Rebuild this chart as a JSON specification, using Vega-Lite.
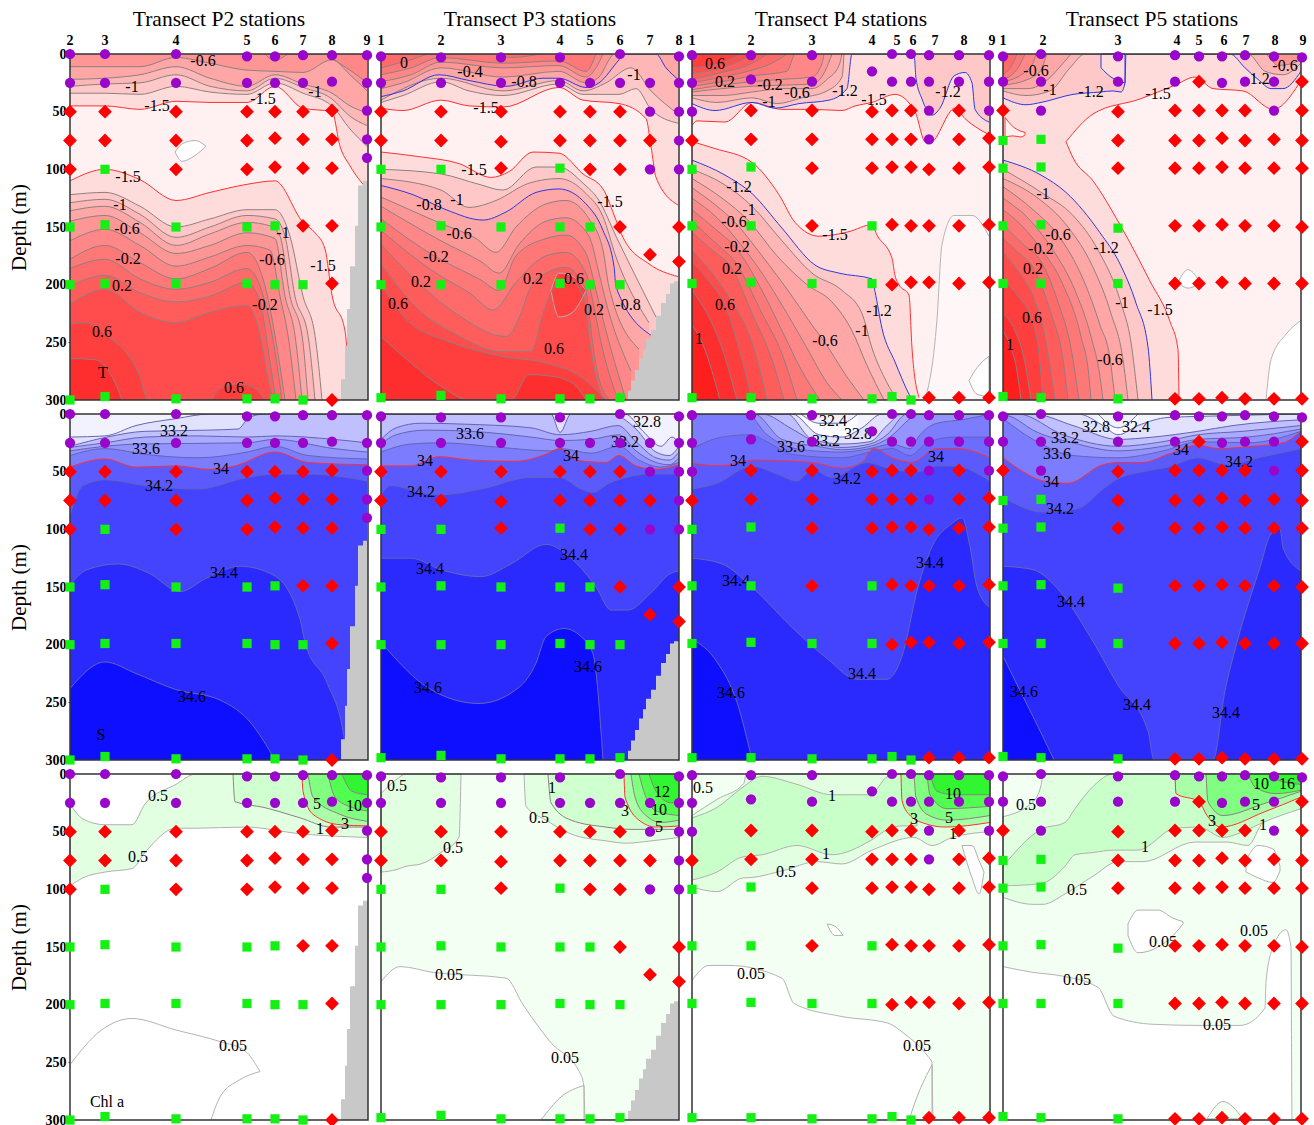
{"$schema":"https://vega.github.io/schema/vega-lite/v6.json","background":"white","padding":{"left":8,"top":8,"right":0,"bottom":0},
"data":{"values":[
{"r":[0,1,2],"c":2,"l":"fr","x":0,"d":0,"e":300},{"r":[0,1,2],"c":2,"l":"fr","x":298,"d":0,"e":300},{"r":[0,1,2],"c":3,"l":"fr","x":0,"d":0,"e":300},{"r":[0,1,2],"c":3,"l":"fr","x":298,"d":0,"e":300},{"r":[0,1,2],"c":4,"l":"fr","x":0,"d":0,"e":300},{"r":[0,1,2],"c":4,"l":"fr","x":298,"d":0,"e":300},{"r":[0,1,2],"c":5,"l":"fr","x":0,"d":0,"e":300},{"r":[0,1,2],"c":5,"l":"fr","x":298,"d":0,"e":300},
{"r":[0],"c":3,"i":243,"j":277},{"r":[0],"c":4,"i":161,"j":230},{"r":[0],"c":5,"i":98,"j":225},
{"r":[0],"c":2,"l":"bT","x":0,"d":300},{"r":[0],"c":2,"l":"bT","x":298,"d":300},
{"r":[0],"c":2,"l":"u1","x":0,"d":45},{"r":[0],"c":2,"l":"u1","x":35,"d":45},{"r":[0],"c":2,"l":"u1","x":70,"d":48},{"r":[0],"c":2,"l":"u1","x":106,"d":41},{"r":[0],"c":2,"l":"u1","x":140,"d":42},{"r":[0],"c":2,"l":"u1","x":177,"d":42},{"r":[0],"c":2,"l":"u1","x":205,"d":28},{"r":[0],"c":2,"l":"u1","x":233,"d":47},{"r":[0],"c":2,"l":"u1","x":262,"d":50},{"r":[0],"c":2,"l":"u1","x":270,"d":80},{"r":[0],"c":2,"l":"u1","x":280,"d":97},{"r":[0],"c":2,"l":"u1","x":297,"d":117},
{"r":[0],"c":2,"l":"u2","x":0,"d":34},{"r":[0],"c":2,"l":"u2","x":35,"d":34},{"r":[0],"c":2,"l":"u2","x":70,"d":35},{"r":[0],"c":2,"l":"u2","x":106,"d":28},{"r":[0],"c":2,"l":"u2","x":140,"d":33},{"r":[0],"c":2,"l":"u2","x":177,"d":35},{"r":[0],"c":2,"l":"u2","x":205,"d":25},{"r":[0],"c":2,"l":"u2","x":233,"d":34},{"r":[0],"c":2,"l":"u2","x":262,"d":45},{"r":[0],"c":2,"l":"u2","x":280,"d":65},{"r":[0],"c":2,"l":"u2","x":297,"d":80},
{"r":[0],"c":2,"l":"u3","x":0,"d":28},{"r":[0],"c":2,"l":"u3","x":35,"d":26},{"r":[0],"c":2,"l":"u3","x":70,"d":25},{"r":[0],"c":2,"l":"u3","x":106,"d":18},{"r":[0],"c":2,"l":"u3","x":140,"d":28},{"r":[0],"c":2,"l":"u3","x":177,"d":32},{"r":[0],"c":2,"l":"u3","x":205,"d":21},{"r":[0],"c":2,"l":"u3","x":233,"d":29},{"r":[0],"c":2,"l":"u3","x":262,"d":39},{"r":[0],"c":2,"l":"u3","x":280,"d":54},{"r":[0],"c":2,"l":"u3","x":297,"d":62},
{"r":[0],"c":2,"l":"u4","x":0,"d":22},{"r":[0],"c":2,"l":"u4","x":35,"d":21},{"r":[0],"c":2,"l":"u4","x":70,"d":18},{"r":[0],"c":2,"l":"u4","x":106,"d":11},{"r":[0],"c":2,"l":"u4","x":140,"d":21},{"r":[0],"c":2,"l":"u4","x":177,"d":28},{"r":[0],"c":2,"l":"u4","x":205,"d":18},{"r":[0],"c":2,"l":"u4","x":233,"d":26},{"r":[0],"c":2,"l":"u4","x":262,"d":34},{"r":[0],"c":2,"l":"u4","x":280,"d":45},{"r":[0],"c":2,"l":"u4","x":297,"d":51},
{"r":[0],"c":2,"l":"u5","x":0,"d":11},{"r":[0],"c":2,"l":"u5","x":35,"d":11},{"r":[0],"c":2,"l":"u5","x":70,"d":11},{"r":[0],"c":2,"l":"u5","x":106,"d":3},{"r":[0],"c":2,"l":"u5","x":140,"d":8},{"r":[0],"c":2,"l":"u5","x":177,"d":14},{"r":[0],"c":2,"l":"u5","x":205,"d":15},{"r":[0],"c":2,"l":"u5","x":233,"d":16},{"r":[0],"c":2,"l":"u5","x":262,"d":5},{"r":[0],"c":2,"l":"u5","x":280,"d":18},{"r":[0],"c":2,"l":"u5","x":297,"d":32},
{"r":[0],"c":2,"l":"u6","x":195,"d":0},{"r":[0],"c":2,"l":"u6","x":205,"d":6},{"r":[0],"c":2,"l":"u6","x":220,"d":0},{"r":[0],"c":2,"l":"u6","x":255,"d":0},{"r":[0],"c":2,"l":"u6","x":262,"d":4},{"r":[0],"c":2,"l":"u6","x":280,"d":14},{"r":[0],"c":2,"l":"u6","x":297,"d":25},
{"r":[0],"c":2,"l":"d1","x":0,"d":110},{"r":[0],"c":2,"l":"d1","x":35,"d":100},{"r":[0],"c":2,"l":"d1","x":70,"d":109},{"r":[0],"c":2,"l":"d1","x":106,"d":127},{"r":[0],"c":2,"l":"d1","x":140,"d":120},{"r":[0],"c":2,"l":"d1","x":177,"d":113},{"r":[0],"c":2,"l":"d1","x":205,"d":110},{"r":[0],"c":2,"l":"d1","x":233,"d":146},{"r":[0],"c":2,"l":"d1","x":245,"d":155},{"r":[0],"c":2,"l":"d1","x":255,"d":169},{"r":[0],"c":2,"l":"d1","x":262,"d":209},{"r":[0],"c":2,"l":"d1","x":275,"d":240},{"r":[0],"c":2,"l":"d1","x":280,"d":300},
{"r":[0],"c":2,"l":"d2","x":0,"d":122},{"r":[0],"c":2,"l":"d2","x":35,"d":120},{"r":[0],"c":2,"l":"d2","x":70,"d":132},{"r":[0],"c":2,"l":"d2","x":106,"d":150},{"r":[0],"c":2,"l":"d2","x":140,"d":143},{"r":[0],"c":2,"l":"d2","x":177,"d":135},{"r":[0],"c":2,"l":"d2","x":205,"d":135},{"r":[0],"c":2,"l":"d2","x":220,"d":158},{"r":[0],"c":2,"l":"d2","x":233,"d":210},{"r":[0],"c":2,"l":"d2","x":245,"d":244},{"r":[0],"c":2,"l":"d2","x":252,"d":300},
{"r":[0],"c":2,"l":"d3","x":0,"d":129},{"r":[0],"c":2,"l":"d3","x":35,"d":126},{"r":[0],"c":2,"l":"d3","x":70,"d":139},{"r":[0],"c":2,"l":"d3","x":106,"d":159},{"r":[0],"c":2,"l":"d3","x":140,"d":150},{"r":[0],"c":2,"l":"d3","x":177,"d":140},{"r":[0],"c":2,"l":"d3","x":205,"d":143},{"r":[0],"c":2,"l":"d3","x":215,"d":158},{"r":[0],"c":2,"l":"d3","x":225,"d":210},{"r":[0],"c":2,"l":"d3","x":238,"d":244},{"r":[0],"c":2,"l":"d3","x":245,"d":300},
{"r":[0],"c":2,"l":"d4","x":0,"d":136},{"r":[0],"c":2,"l":"d4","x":35,"d":132},{"r":[0],"c":2,"l":"d4","x":70,"d":146},{"r":[0],"c":2,"l":"d4","x":106,"d":166},{"r":[0],"c":2,"l":"d4","x":140,"d":156},{"r":[0],"c":2,"l":"d4","x":177,"d":146},{"r":[0],"c":2,"l":"d4","x":200,"d":149},{"r":[0],"c":2,"l":"d4","x":210,"d":158},{"r":[0],"c":2,"l":"d4","x":220,"d":210},{"r":[0],"c":2,"l":"d4","x":232,"d":244},{"r":[0],"c":2,"l":"d4","x":238,"d":300},
{"r":[0],"c":2,"l":"d5","x":0,"d":145},{"r":[0],"c":2,"l":"d5","x":35,"d":140},{"r":[0],"c":2,"l":"d5","x":70,"d":155},{"r":[0],"c":2,"l":"d5","x":106,"d":173},{"r":[0],"c":2,"l":"d5","x":140,"d":166},{"r":[0],"c":2,"l":"d5","x":177,"d":155},{"r":[0],"c":2,"l":"d5","x":205,"d":160},{"r":[0],"c":2,"l":"d5","x":215,"d":210},{"r":[0],"c":2,"l":"d5","x":225,"d":244},{"r":[0],"c":2,"l":"d5","x":232,"d":300},
{"r":[0],"c":2,"l":"d6","x":0,"d":162},{"r":[0],"c":2,"l":"d6","x":35,"d":152},{"r":[0],"c":2,"l":"d6","x":70,"d":166},{"r":[0],"c":2,"l":"d6","x":106,"d":184},{"r":[0],"c":2,"l":"d6","x":140,"d":176},{"r":[0],"c":2,"l":"d6","x":177,"d":166},{"r":[0],"c":2,"l":"d6","x":200,"d":170},{"r":[0],"c":2,"l":"d6","x":210,"d":210},{"r":[0],"c":2,"l":"d6","x":218,"d":244},{"r":[0],"c":2,"l":"d6","x":226,"d":300},
{"r":[0],"c":2,"l":"d7","x":0,"d":178},{"r":[0],"c":2,"l":"d7","x":35,"d":166},{"r":[0],"c":2,"l":"d7","x":70,"d":181},{"r":[0],"c":2,"l":"d7","x":106,"d":195},{"r":[0],"c":2,"l":"d7","x":140,"d":186},{"r":[0],"c":2,"l":"d7","x":177,"d":172},{"r":[0],"c":2,"l":"d7","x":195,"d":201},{"r":[0],"c":2,"l":"d7","x":205,"d":244},{"r":[0],"c":2,"l":"d7","x":215,"d":300},
{"r":[0],"c":2,"l":"d8","x":0,"d":186},{"r":[0],"c":2,"l":"d8","x":35,"d":178},{"r":[0],"c":2,"l":"d8","x":70,"d":195},{"r":[0],"c":2,"l":"d8","x":106,"d":204},{"r":[0],"c":2,"l":"d8","x":140,"d":198},{"r":[0],"c":2,"l":"d8","x":177,"d":186},{"r":[0],"c":2,"l":"d8","x":195,"d":215},{"r":[0],"c":2,"l":"d8","x":205,"d":258},{"r":[0],"c":2,"l":"d8","x":212,"d":300},
{"r":[0],"c":2,"l":"d9","x":0,"d":201},{"r":[0],"c":2,"l":"d9","x":35,"d":192},{"r":[0],"c":2,"l":"d9","x":70,"d":207},{"r":[0],"c":2,"l":"d9","x":106,"d":215},{"r":[0],"c":2,"l":"d9","x":140,"d":210},{"r":[0],"c":2,"l":"d9","x":177,"d":198},{"r":[0],"c":2,"l":"d9","x":190,"d":215},{"r":[0],"c":2,"l":"d9","x":200,"d":267},{"r":[0],"c":2,"l":"d9","x":206,"d":300},
{"r":[0],"c":2,"l":"d10","x":0,"d":217},{"r":[0],"c":2,"l":"d10","x":35,"d":204},{"r":[0],"c":2,"l":"d10","x":70,"d":224},{"r":[0],"c":2,"l":"d10","x":106,"d":233},{"r":[0],"c":2,"l":"d10","x":140,"d":224},{"r":[0],"c":2,"l":"d10","x":177,"d":218},{"r":[0],"c":2,"l":"d10","x":190,"d":244},{"r":[0],"c":2,"l":"d10","x":198,"d":282},{"r":[0],"c":2,"l":"d10","x":203,"d":300},
{"r":[0],"c":2,"l":"d11","x":0,"d":234},{"r":[0],"c":2,"l":"d11","x":15,"d":233},{"r":[0],"c":2,"l":"d11","x":35,"d":243},{"r":[0],"c":2,"l":"d11","x":70,"d":280},{"r":[0],"c":2,"l":"d11","x":78,"d":300},{"r":[0],"c":2,"l":"d11","x":140,"d":300},{"r":[0],"c":2,"l":"d11","x":150,"d":290},{"r":[0],"c":2,"l":"d11","x":170,"d":286},{"r":[0],"c":2,"l":"d11","x":185,"d":290},{"r":[0],"c":2,"l":"d11","x":195,"d":300},
{"r":[0],"c":2,"l":"d12","x":0,"d":264},{"r":[0],"c":2,"l":"d12","x":25,"d":265},{"r":[0],"c":2,"l":"d12","x":45,"d":285},{"r":[0],"c":2,"l":"d12","x":52,"d":300},
{"r":[0],"c":2,"l":"mw","x":105,"d":85,"e":85},{"r":[0],"c":2,"l":"mw","x":112,"d":78,"e":93},{"r":[0],"c":2,"l":"mw","x":125,"d":75,"e":88},{"r":[0],"c":2,"l":"mw","x":136,"d":80,"e":80},
{"r":[0],"c":3,"l":"bT","x":0,"d":300},{"r":[0],"c":3,"l":"bT","x":298,"d":300},
{"r":[0],"c":3,"l":"u1","x":0,"d":47},{"r":[0],"c":3,"l":"u1","x":22,"d":49},{"r":[0],"c":3,"l":"u1","x":60,"d":40},{"r":[0],"c":3,"l":"u1","x":88,"d":45},{"r":[0],"c":3,"l":"u1","x":122,"d":46},{"r":[0],"c":3,"l":"u1","x":178,"d":29},{"r":[0],"c":3,"l":"u1","x":202,"d":40},{"r":[0],"c":3,"l":"u1","x":238,"d":43},{"r":[0],"c":3,"l":"u1","x":265,"d":56},{"r":[0],"c":3,"l":"u1","x":270,"d":80},{"r":[0],"c":3,"l":"u1","x":275,"d":107},{"r":[0],"c":3,"l":"u1","x":297,"d":131},
{"r":[0],"c":3,"l":"u2","x":0,"d":42},{"r":[0],"c":3,"l":"u2","x":22,"d":36},{"r":[0],"c":3,"l":"u2","x":60,"d":24},{"r":[0],"c":3,"l":"u2","x":88,"d":32},{"r":[0],"c":3,"l":"u2","x":122,"d":36},{"r":[0],"c":3,"l":"u2","x":178,"d":26},{"r":[0],"c":3,"l":"u2","x":202,"d":35},{"r":[0],"c":3,"l":"u2","x":238,"d":35},{"r":[0],"c":3,"l":"u2","x":255,"d":30},{"r":[0],"c":3,"l":"u2","x":270,"d":48},{"r":[0],"c":3,"l":"u2","x":297,"d":60},
{"r":[0],"c":3,"l":"u3","x":0,"d":40},{"r":[0],"c":3,"l":"u3","x":60,"d":21},{"r":[0],"c":3,"l":"u3","x":122,"d":32},{"r":[0],"c":3,"l":"u3","x":178,"d":23},{"r":[0],"c":3,"l":"u3","x":202,"d":32},{"r":[0],"c":3,"l":"u3","x":225,"d":25},{"r":[0],"c":3,"l":"u3","x":250,"d":12},{"r":[0],"c":3,"l":"u3","x":270,"d":32},{"r":[0],"c":3,"l":"u3","x":297,"d":52},
{"r":[0],"c":3,"l":"u4b","x":0,"d":37},{"r":[0],"c":3,"l":"u4b","x":22,"d":32},{"r":[0],"c":3,"l":"u4b","x":58,"d":18},{"r":[0],"c":3,"l":"u4b","x":88,"d":23},{"r":[0],"c":3,"l":"u4b","x":125,"d":28},{"r":[0],"c":3,"l":"u4b","x":162,"d":21},{"r":[0],"c":3,"l":"u4b","x":178,"d":21},{"r":[0],"c":3,"l":"u4b","x":205,"d":29},{"r":[0],"c":3,"l":"u4b","x":218,"d":25},{"r":[0],"c":3,"l":"u4b","x":238,"d":5},{"r":[0],"c":3,"l":"u4b","x":243,"d":0},{"r":[0],"c":3,"l":"u4b","x":275,"d":0},{"r":[0],"c":3,"l":"u4b","x":285,"d":12},{"r":[0],"c":3,"l":"u4b","x":297,"d":22},
{"r":[0],"c":3,"l":"u5","x":0,"d":30},{"r":[0],"c":3,"l":"u5","x":22,"d":25},{"r":[0],"c":3,"l":"u5","x":60,"d":12},{"r":[0],"c":3,"l":"u5","x":122,"d":20},{"r":[0],"c":3,"l":"u5","x":178,"d":15},{"r":[0],"c":3,"l":"u5","x":205,"d":25},{"r":[0],"c":3,"l":"u5","x":218,"d":20},{"r":[0],"c":3,"l":"u5","x":228,"d":5},{"r":[0],"c":3,"l":"u5","x":232,"d":0},
{"r":[0],"c":3,"l":"u6","x":0,"d":24},{"r":[0],"c":3,"l":"u6","x":30,"d":18},{"r":[0],"c":3,"l":"u6","x":60,"d":7},{"r":[0],"c":3,"l":"u6","x":122,"d":12},{"r":[0],"c":3,"l":"u6","x":178,"d":10},{"r":[0],"c":3,"l":"u6","x":205,"d":20},{"r":[0],"c":3,"l":"u6","x":215,"d":12},{"r":[0],"c":3,"l":"u6","x":222,"d":0},
{"r":[0],"c":3,"l":"u7","x":0,"d":18},{"r":[0],"c":3,"l":"u7","x":30,"d":12},{"r":[0],"c":3,"l":"u7","x":60,"d":3},{"r":[0],"c":3,"l":"u7","x":122,"d":8},{"r":[0],"c":3,"l":"u7","x":178,"d":6},{"r":[0],"c":3,"l":"u7","x":205,"d":15},{"r":[0],"c":3,"l":"u7","x":215,"d":0},
{"r":[0],"c":3,"l":"u8","x":0,"d":12},{"r":[0],"c":3,"l":"u8","x":30,"d":5},{"r":[0],"c":3,"l":"u8","x":50,"d":0},{"r":[0],"c":3,"l":"u8","x":110,"d":0},{"r":[0],"c":3,"l":"u8","x":130,"d":3},{"r":[0],"c":3,"l":"u8","x":160,"d":0},
{"r":[0],"c":3,"l":"d1","x":0,"d":85},{"r":[0],"c":3,"l":"d1","x":38,"d":89},{"r":[0],"c":3,"l":"d1","x":78,"d":95},{"r":[0],"c":3,"l":"d1","x":110,"d":107},{"r":[0],"c":3,"l":"d1","x":128,"d":102},{"r":[0],"c":3,"l":"d1","x":152,"d":85},{"r":[0],"c":3,"l":"d1","x":178,"d":86},{"r":[0],"c":3,"l":"d1","x":202,"d":104},{"r":[0],"c":3,"l":"d1","x":222,"d":117},{"r":[0],"c":3,"l":"d1","x":235,"d":144},{"r":[0],"c":3,"l":"d1","x":242,"d":159},{"r":[0],"c":3,"l":"d1","x":268,"d":182},{"r":[0],"c":3,"l":"d1","x":297,"d":193},
{"r":[0],"c":3,"l":"d2","x":0,"d":100},{"r":[0],"c":3,"l":"d2","x":60,"d":104},{"r":[0],"c":3,"l":"d2","x":98,"d":113},{"r":[0],"c":3,"l":"d2","x":122,"d":118},{"r":[0],"c":3,"l":"d2","x":155,"d":98},{"r":[0],"c":3,"l":"d2","x":178,"d":98},{"r":[0],"c":3,"l":"d2","x":202,"d":112},{"r":[0],"c":3,"l":"d2","x":218,"d":127},{"r":[0],"c":3,"l":"d2","x":235,"d":158},{"r":[0],"c":3,"l":"d2","x":275,"d":228},
{"r":[0],"c":3,"l":"d3","x":0,"d":108},{"r":[0],"c":3,"l":"d3","x":60,"d":118},{"r":[0],"c":3,"l":"d3","x":88,"d":133},{"r":[0],"c":3,"l":"d3","x":115,"d":127},{"r":[0],"c":3,"l":"d3","x":148,"d":112},{"r":[0],"c":3,"l":"d3","x":178,"d":108},{"r":[0],"c":3,"l":"d3","x":205,"d":121},{"r":[0],"c":3,"l":"d3","x":222,"d":141},{"r":[0],"c":3,"l":"d3","x":235,"d":176},{"r":[0],"c":3,"l":"d3","x":268,"d":233},
{"r":[0],"c":3,"l":"d4b","x":0,"d":114},{"r":[0],"c":3,"l":"d4b","x":32,"d":122},{"r":[0],"c":3,"l":"d4b","x":65,"d":135},{"r":[0],"c":3,"l":"d4b","x":102,"d":144},{"r":[0],"c":3,"l":"d4b","x":125,"d":137},{"r":[0],"c":3,"l":"d4b","x":155,"d":120},{"r":[0],"c":3,"l":"d4b","x":178,"d":117},{"r":[0],"c":3,"l":"d4b","x":205,"d":130},{"r":[0],"c":3,"l":"d4b","x":222,"d":153},{"r":[0],"c":3,"l":"d4b","x":233,"d":184},{"r":[0],"c":3,"l":"d4b","x":235,"d":202},{"r":[0],"c":3,"l":"d4b","x":272,"d":245},
{"r":[0],"c":3,"l":"d5","x":0,"d":124},{"r":[0],"c":3,"l":"d5","x":60,"d":147},{"r":[0],"c":3,"l":"d5","x":95,"d":160},{"r":[0],"c":3,"l":"d5","x":115,"d":172},{"r":[0],"c":3,"l":"d5","x":135,"d":150},{"r":[0],"c":3,"l":"d5","x":165,"d":130},{"r":[0],"c":3,"l":"d5","x":185,"d":127},{"r":[0],"c":3,"l":"d5","x":208,"d":143},{"r":[0],"c":3,"l":"d5","x":222,"d":170},{"r":[0],"c":3,"l":"d5","x":228,"d":202},{"r":[0],"c":3,"l":"d5","x":258,"d":256},
{"r":[0],"c":3,"l":"d6","x":0,"d":132},{"r":[0],"c":3,"l":"d6","x":60,"d":162},{"r":[0],"c":3,"l":"d6","x":100,"d":180},{"r":[0],"c":3,"l":"d6","x":118,"d":190},{"r":[0],"c":3,"l":"d6","x":138,"d":165},{"r":[0],"c":3,"l":"d6","x":165,"d":145},{"r":[0],"c":3,"l":"d6","x":185,"d":142},{"r":[0],"c":3,"l":"d6","x":208,"d":158},{"r":[0],"c":3,"l":"d6","x":218,"d":190},{"r":[0],"c":3,"l":"d6","x":225,"d":215},{"r":[0],"c":3,"l":"d6","x":250,"d":275},
{"r":[0],"c":3,"l":"d7","x":0,"d":143},{"r":[0],"c":3,"l":"d7","x":55,"d":176},{"r":[0],"c":3,"l":"d7","x":100,"d":196},{"r":[0],"c":3,"l":"d7","x":118,"d":205},{"r":[0],"c":3,"l":"d7","x":135,"d":175},{"r":[0],"c":3,"l":"d7","x":165,"d":160},{"r":[0],"c":3,"l":"d7","x":185,"d":157},{"r":[0],"c":3,"l":"d7","x":205,"d":173},{"r":[0],"c":3,"l":"d7","x":215,"d":205},{"r":[0],"c":3,"l":"d7","x":222,"d":230},{"r":[0],"c":3,"l":"d7","x":245,"d":300},
{"r":[0],"c":3,"l":"d8","x":0,"d":153},{"r":[0],"c":3,"l":"d8","x":55,"d":190},{"r":[0],"c":3,"l":"d8","x":90,"d":208},{"r":[0],"c":3,"l":"d8","x":112,"d":222},{"r":[0],"c":3,"l":"d8","x":135,"d":198},{"r":[0],"c":3,"l":"d8","x":165,"d":175},{"r":[0],"c":3,"l":"d8","x":185,"d":172},{"r":[0],"c":3,"l":"d8","x":205,"d":190},{"r":[0],"c":3,"l":"d8","x":212,"d":215},{"r":[0],"c":3,"l":"d8","x":220,"d":250},{"r":[0],"c":3,"l":"d8","x":237,"d":300},
{"r":[0],"c":3,"l":"d9","x":0,"d":165},{"r":[0],"c":3,"l":"d9","x":38,"d":199},{"r":[0],"c":3,"l":"d9","x":75,"d":225},{"r":[0],"c":3,"l":"d9","x":125,"d":245},{"r":[0],"c":3,"l":"d9","x":140,"d":225},{"r":[0],"c":3,"l":"d9","x":148,"d":205},{"r":[0],"c":3,"l":"d9","x":165,"d":190},{"r":[0],"c":3,"l":"d9","x":185,"d":185},{"r":[0],"c":3,"l":"d9","x":205,"d":205},{"r":[0],"c":3,"l":"d9","x":208,"d":225},{"r":[0],"c":3,"l":"d9","x":215,"d":270},{"r":[0],"c":3,"l":"d9","x":228,"d":300},
{"r":[0],"c":3,"l":"d10","x":0,"d":182},{"r":[0],"c":3,"l":"d10","x":38,"d":222},{"r":[0],"c":3,"l":"d10","x":75,"d":243},{"r":[0],"c":3,"l":"d10","x":120,"d":258},{"r":[0],"c":3,"l":"d10","x":150,"d":258},{"r":[0],"c":3,"l":"d10","x":162,"d":225},{"r":[0],"c":3,"l":"d10","x":175,"d":200},{"r":[0],"c":3,"l":"d10","x":190,"d":196},{"r":[0],"c":3,"l":"d10","x":204,"d":215},{"r":[0],"c":3,"l":"d10","x":208,"d":245},{"r":[0],"c":3,"l":"d10","x":222,"d":300},
{"r":[0],"c":3,"l":"d11","x":0,"d":199},{"r":[0],"c":3,"l":"d11","x":25,"d":230},{"r":[0],"c":3,"l":"d11","x":70,"d":250},{"r":[0],"c":3,"l":"d11","x":120,"d":262},{"r":[0],"c":3,"l":"d11","x":165,"d":268},{"r":[0],"c":3,"l":"d11","x":200,"d":280},{"r":[0],"c":3,"l":"d11","x":225,"d":300},
{"r":[0],"c":3,"l":"d12","x":0,"d":245},{"r":[0],"c":3,"l":"d12","x":22,"d":262},{"r":[0],"c":3,"l":"d12","x":60,"d":288},{"r":[0],"c":3,"l":"d12","x":88,"d":300},{"r":[0],"c":3,"l":"d12","x":130,"d":300},{"r":[0],"c":3,"l":"d12","x":148,"d":278},{"r":[0],"c":3,"l":"d12","x":175,"d":280},{"r":[0],"c":3,"l":"d12","x":195,"d":288},{"r":[0],"c":3,"l":"d12","x":205,"d":300},
{"r":[0],"c":3,"l":"m11","x":170,"d":205,"e":205},{"r":[0],"c":3,"l":"m11","x":178,"d":190,"e":228},{"r":[0],"c":3,"l":"m11","x":190,"d":192,"e":225},{"r":[0],"c":3,"l":"m11","x":205,"d":205,"e":205},
{"r":[0],"c":4,"l":"bT","x":0,"d":300},{"r":[0],"c":4,"l":"bT","x":298,"d":300},
{"r":[0],"c":4,"l":"u1","x":0,"d":62},{"r":[0],"c":4,"l":"u1","x":5,"d":58},{"r":[0],"c":4,"l":"u1","x":33,"d":59},{"r":[0],"c":4,"l":"u1","x":60,"d":42},{"r":[0],"c":4,"l":"u1","x":90,"d":48},{"r":[0],"c":4,"l":"u1","x":120,"d":48},{"r":[0],"c":4,"l":"u1","x":150,"d":49},{"r":[0],"c":4,"l":"u1","x":163,"d":45},{"r":[0],"c":4,"l":"u1","x":180,"d":42},{"r":[0],"c":4,"l":"u1","x":203,"d":35},{"r":[0],"c":4,"l":"u1","x":223,"d":50},{"r":[0],"c":4,"l":"u1","x":233,"d":76},{"r":[0],"c":4,"l":"u1","x":238,"d":77},{"r":[0],"c":4,"l":"u1","x":263,"d":47},{"r":[0],"c":4,"l":"u1","x":273,"d":56},{"r":[0],"c":4,"l":"u1","x":297,"d":70},
{"r":[0],"c":4,"l":"u2b","x":0,"d":43},{"r":[0],"c":4,"l":"u2b","x":23,"d":49},{"r":[0],"c":4,"l":"u2b","x":60,"d":42},{"r":[0],"c":4,"l":"u2b","x":83,"d":47},{"r":[0],"c":4,"l":"u2b","x":107,"d":43},{"r":[0],"c":4,"l":"u2b","x":137,"d":40},{"r":[0],"c":4,"l":"u2b","x":155,"d":30},{"r":[0],"c":4,"l":"u2b","x":160,"d":0},{"r":[0],"c":4,"l":"u2b","x":222,"d":0},{"r":[0],"c":4,"l":"u2b","x":224,"d":21},{"r":[0],"c":4,"l":"u2b","x":230,"d":39},{"r":[0],"c":4,"l":"u2b","x":240,"d":53},{"r":[0],"c":4,"l":"u2b","x":248,"d":47},{"r":[0],"c":4,"l":"u2b","x":262,"d":19},{"r":[0],"c":4,"l":"u2b","x":273,"d":16},{"r":[0],"c":4,"l":"u2b","x":280,"d":25},{"r":[0],"c":4,"l":"u2b","x":283,"d":48},{"r":[0],"c":4,"l":"u2b","x":297,"d":59},
{"r":[0],"c":4,"l":"u3","x":0,"d":38},{"r":[0],"c":4,"l":"u3","x":25,"d":42},{"r":[0],"c":4,"l":"u3","x":60,"d":38},{"r":[0],"c":4,"l":"u3","x":85,"d":43},{"r":[0],"c":4,"l":"u3","x":110,"d":38},{"r":[0],"c":4,"l":"u3","x":135,"d":32},{"r":[0],"c":4,"l":"u3","x":150,"d":20},{"r":[0],"c":4,"l":"u3","x":152,"d":0},
{"r":[0],"c":4,"l":"u4","x":0,"d":36},{"r":[0],"c":4,"l":"u4","x":30,"d":36},{"r":[0],"c":4,"l":"u4","x":60,"d":33},{"r":[0],"c":4,"l":"u4","x":90,"d":30},{"r":[0],"c":4,"l":"u4","x":120,"d":30},{"r":[0],"c":4,"l":"u4","x":135,"d":22},{"r":[0],"c":4,"l":"u4","x":147,"d":10},{"r":[0],"c":4,"l":"u4","x":150,"d":0},
{"r":[0],"c":4,"l":"u5","x":0,"d":33},{"r":[0],"c":4,"l":"u5","x":30,"d":30},{"r":[0],"c":4,"l":"u5","x":60,"d":28},{"r":[0],"c":4,"l":"u5","x":90,"d":27},{"r":[0],"c":4,"l":"u5","x":120,"d":26},{"r":[0],"c":4,"l":"u5","x":133,"d":15},{"r":[0],"c":4,"l":"u5","x":140,"d":0},
{"r":[0],"c":4,"l":"u6","x":0,"d":31},{"r":[0],"c":4,"l":"u6","x":30,"d":27},{"r":[0],"c":4,"l":"u6","x":60,"d":24},{"r":[0],"c":4,"l":"u6","x":90,"d":22},{"r":[0],"c":4,"l":"u6","x":120,"d":20},{"r":[0],"c":4,"l":"u6","x":130,"d":8},{"r":[0],"c":4,"l":"u6","x":132,"d":0},
{"r":[0],"c":4,"l":"u7","x":0,"d":28},{"r":[0],"c":4,"l":"u7","x":30,"d":24},{"r":[0],"c":4,"l":"u7","x":60,"d":19},{"r":[0],"c":4,"l":"u7","x":95,"d":15},{"r":[0],"c":4,"l":"u7","x":100,"d":5},{"r":[0],"c":4,"l":"u7","x":102,"d":0},
{"r":[0],"c":4,"l":"u8","x":0,"d":25},{"r":[0],"c":4,"l":"u8","x":30,"d":20},{"r":[0],"c":4,"l":"u8","x":60,"d":14},{"r":[0],"c":4,"l":"u8","x":80,"d":8},{"r":[0],"c":4,"l":"u8","x":95,"d":0},
{"r":[0],"c":4,"l":"u9","x":0,"d":22},{"r":[0],"c":4,"l":"u9","x":30,"d":16},{"r":[0],"c":4,"l":"u9","x":55,"d":10},{"r":[0],"c":4,"l":"u9","x":70,"d":3},{"r":[0],"c":4,"l":"u9","x":75,"d":0},
{"r":[0],"c":4,"l":"u10","x":0,"d":17},{"r":[0],"c":4,"l":"u10","x":30,"d":12},{"r":[0],"c":4,"l":"u10","x":55,"d":3},{"r":[0],"c":4,"l":"u10","x":62,"d":0},
{"r":[0],"c":4,"l":"u11","x":0,"d":12},{"r":[0],"c":4,"l":"u11","x":25,"d":9},{"r":[0],"c":4,"l":"u11","x":45,"d":2},{"r":[0],"c":4,"l":"u11","x":50,"d":0},
{"r":[0],"c":4,"l":"dq","x":233,"d":300},{"r":[0],"c":4,"l":"dq","x":245,"d":230},{"r":[0],"c":4,"l":"dq","x":250,"d":165},{"r":[0],"c":4,"l":"dq","x":262,"d":140},{"r":[0],"c":4,"l":"dq","x":280,"d":140},{"r":[0],"c":4,"l":"dq","x":297,"d":158},
{"r":[0],"c":4,"l":"d1","x":0,"d":76},{"r":[0],"c":4,"l":"d1","x":23,"d":82},{"r":[0],"c":4,"l":"d1","x":60,"d":94},{"r":[0],"c":4,"l":"d1","x":87,"d":122},{"r":[0],"c":4,"l":"d1","x":103,"d":146},{"r":[0],"c":4,"l":"d1","x":127,"d":158},{"r":[0],"c":4,"l":"d1","x":157,"d":154},{"r":[0],"c":4,"l":"d1","x":180,"d":148},{"r":[0],"c":4,"l":"d1","x":185,"d":157},{"r":[0],"c":4,"l":"d1","x":200,"d":177},{"r":[0],"c":4,"l":"d1","x":203,"d":192},{"r":[0],"c":4,"l":"d1","x":207,"d":200},{"r":[0],"c":4,"l":"d1","x":217,"d":209},{"r":[0],"c":4,"l":"d1","x":220,"d":255},{"r":[0],"c":4,"l":"d1","x":227,"d":298},
{"r":[0],"c":4,"l":"d2b","x":0,"d":92},{"r":[0],"c":4,"l":"d2b","x":33,"d":105},{"r":[0],"c":4,"l":"d2b","x":60,"d":121},{"r":[0],"c":4,"l":"d2b","x":90,"d":151},{"r":[0],"c":4,"l":"d2b","x":123,"d":183},{"r":[0],"c":4,"l":"d2b","x":147,"d":190},{"r":[0],"c":4,"l":"d2b","x":180,"d":195},{"r":[0],"c":4,"l":"d2b","x":183,"d":206},{"r":[0],"c":4,"l":"d2b","x":190,"d":238},{"r":[0],"c":4,"l":"d2b","x":203,"d":267},{"r":[0],"c":4,"l":"d2b","x":217,"d":295},{"r":[0],"c":4,"l":"d2b","x":220,"d":300},
{"r":[0],"c":4,"l":"d3","x":0,"d":100},{"r":[0],"c":4,"l":"d3","x":30,"d":112},{"r":[0],"c":4,"l":"d3","x":60,"d":132},{"r":[0],"c":4,"l":"d3","x":90,"d":162},{"r":[0],"c":4,"l":"d3","x":120,"d":190},{"r":[0],"c":4,"l":"d3","x":150,"d":205},{"r":[0],"c":4,"l":"d3","x":170,"d":225},{"r":[0],"c":4,"l":"d3","x":180,"d":255},{"r":[0],"c":4,"l":"d3","x":195,"d":285},{"r":[0],"c":4,"l":"d3","x":205,"d":300},
{"r":[0],"c":4,"l":"d4","x":0,"d":108},{"r":[0],"c":4,"l":"d4","x":30,"d":125},{"r":[0],"c":4,"l":"d4","x":57,"d":145},{"r":[0],"c":4,"l":"d4","x":85,"d":175},{"r":[0],"c":4,"l":"d4","x":115,"d":200},{"r":[0],"c":4,"l":"d4","x":140,"d":215},{"r":[0],"c":4,"l":"d4","x":160,"d":240},{"r":[0],"c":4,"l":"d4","x":175,"d":270},{"r":[0],"c":4,"l":"d4","x":192,"d":300},
{"r":[0],"c":4,"l":"d5","x":0,"d":116},{"r":[0],"c":4,"l":"d5","x":25,"d":132},{"r":[0],"c":4,"l":"d5","x":42,"d":145},{"r":[0],"c":4,"l":"d5","x":70,"d":175},{"r":[0],"c":4,"l":"d5","x":100,"d":210},{"r":[0],"c":4,"l":"d5","x":120,"d":235},{"r":[0],"c":4,"l":"d5","x":132,"d":249},{"r":[0],"c":4,"l":"d5","x":155,"d":280},{"r":[0],"c":4,"l":"d5","x":172,"d":300},
{"r":[0],"c":4,"l":"d6","x":0,"d":125},{"r":[0],"c":4,"l":"d6","x":25,"d":142},{"r":[0],"c":4,"l":"d6","x":42,"d":158},{"r":[0],"c":4,"l":"d6","x":70,"d":190},{"r":[0],"c":4,"l":"d6","x":95,"d":225},{"r":[0],"c":4,"l":"d6","x":115,"d":255},{"r":[0],"c":4,"l":"d6","x":135,"d":285},{"r":[0],"c":4,"l":"d6","x":150,"d":300},
{"r":[0],"c":4,"l":"d7","x":0,"d":135},{"r":[0],"c":4,"l":"d7","x":25,"d":153},{"r":[0],"c":4,"l":"d7","x":43,"d":167},{"r":[0],"c":4,"l":"d7","x":70,"d":205},{"r":[0],"c":4,"l":"d7","x":90,"d":240},{"r":[0],"c":4,"l":"d7","x":110,"d":275},{"r":[0],"c":4,"l":"d7","x":128,"d":300},
{"r":[0],"c":4,"l":"d8","x":0,"d":145},{"r":[0],"c":4,"l":"d8","x":25,"d":165},{"r":[0],"c":4,"l":"d8","x":43,"d":180},{"r":[0],"c":4,"l":"d8","x":70,"d":225},{"r":[0],"c":4,"l":"d8","x":90,"d":260},{"r":[0],"c":4,"l":"d8","x":105,"d":300},
{"r":[0],"c":4,"l":"d9","x":0,"d":155},{"r":[0],"c":4,"l":"d9","x":20,"d":170},{"r":[0],"c":4,"l":"d9","x":40,"d":186},{"r":[0],"c":4,"l":"d9","x":60,"d":225},{"r":[0],"c":4,"l":"d9","x":80,"d":265},{"r":[0],"c":4,"l":"d9","x":92,"d":300},
{"r":[0],"c":4,"l":"d10","x":0,"d":170},{"r":[0],"c":4,"l":"d10","x":20,"d":190},{"r":[0],"c":4,"l":"d10","x":40,"d":215},{"r":[0],"c":4,"l":"d10","x":60,"d":250},{"r":[0],"c":4,"l":"d10","x":75,"d":300},
{"r":[0],"c":4,"l":"d11","x":0,"d":180},{"r":[0],"c":4,"l":"d11","x":15,"d":195},{"r":[0],"c":4,"l":"d11","x":33,"d":218},{"r":[0],"c":4,"l":"d11","x":50,"d":265},{"r":[0],"c":4,"l":"d11","x":60,"d":300},
{"r":[0],"c":4,"l":"d12","x":0,"d":205},{"r":[0],"c":4,"l":"d12","x":15,"d":225},{"r":[0],"c":4,"l":"d12","x":30,"d":255},{"r":[0],"c":4,"l":"d12","x":45,"d":300},
{"r":[0],"c":4,"l":"d13","x":0,"d":235},{"r":[0],"c":4,"l":"d13","x":10,"d":250},{"r":[0],"c":4,"l":"d13","x":20,"d":275},{"r":[0],"c":4,"l":"d13","x":28,"d":300},
{"r":[0],"c":4,"l":"mw","x":277,"d":283,"e":283},{"r":[0],"c":4,"l":"mw","x":285,"d":272,"e":295},{"r":[0],"c":4,"l":"mw","x":297,"d":262,"e":297},
{"r":[0],"c":5,"l":"bT","x":0,"d":300},{"r":[0],"c":5,"l":"bT","x":298,"d":300},
{"r":[0],"c":5,"l":"b1","x":0,"d":300},{"r":[0],"c":5,"l":"b1","x":63,"d":300},
{"r":[0],"c":5,"l":"u1","x":63,"d":76},{"r":[0],"c":5,"l":"u1","x":90,"d":52},{"r":[0],"c":5,"l":"u1","x":137,"d":39},{"r":[0],"c":5,"l":"u1","x":172,"d":27},{"r":[0],"c":5,"l":"u1","x":192,"d":20},{"r":[0],"c":5,"l":"u1","x":210,"d":30},{"r":[0],"c":5,"l":"u1","x":240,"d":32},{"r":[0],"c":5,"l":"u1","x":270,"d":48},{"r":[0],"c":5,"l":"u1","x":298,"d":23},
{"r":[0],"c":5,"l":"u2b","x":0,"d":38},{"r":[0],"c":5,"l":"u2b","x":23,"d":44},{"r":[0],"c":5,"l":"u2b","x":38,"d":42},{"r":[0],"c":5,"l":"u2b","x":70,"d":35},{"r":[0],"c":5,"l":"u2b","x":97,"d":33},{"r":[0],"c":5,"l":"u2b","x":110,"d":32},{"r":[0],"c":5,"l":"u2b","x":118,"d":33},{"r":[0],"c":5,"l":"u2b","x":122,"d":25},{"r":[0],"c":5,"l":"u2b","x":123,"d":0},{"r":[0],"c":5,"l":"u2b","x":227,"d":0},{"r":[0],"c":5,"l":"u2b","x":242,"d":12},{"r":[0],"c":5,"l":"u2b","x":255,"d":22},{"r":[0],"c":5,"l":"u2b","x":268,"d":30},{"r":[0],"c":5,"l":"u2b","x":280,"d":30},{"r":[0],"c":5,"l":"u2b","x":298,"d":15},
{"r":[0],"c":5,"l":"u3","x":0,"d":32},{"r":[0],"c":5,"l":"u3","x":23,"d":36},{"r":[0],"c":5,"l":"u3","x":47,"d":32},{"r":[0],"c":5,"l":"u3","x":67,"d":12},{"r":[0],"c":5,"l":"u3","x":82,"d":0},{"r":[0],"c":5,"l":"u3","x":245,"d":0},{"r":[0],"c":5,"l":"u3","x":262,"d":15},{"r":[0],"c":5,"l":"u3","x":280,"d":18},{"r":[0],"c":5,"l":"u3","x":298,"d":8},
{"r":[0],"c":5,"l":"u4","x":0,"d":30},{"r":[0],"c":5,"l":"u4","x":25,"d":30},{"r":[0],"c":5,"l":"u4","x":45,"d":22},{"r":[0],"c":5,"l":"u4","x":60,"d":8},{"r":[0],"c":5,"l":"u4","x":68,"d":0},
{"r":[0],"c":5,"l":"u5","x":0,"d":27},{"r":[0],"c":5,"l":"u5","x":25,"d":22},{"r":[0],"c":5,"l":"u5","x":38,"d":14},{"r":[0],"c":5,"l":"u5","x":45,"d":0},{"r":[0],"c":5,"l":"u5","x":262,"d":0},{"r":[0],"c":5,"l":"u5","x":275,"d":10},{"r":[0],"c":5,"l":"u5","x":290,"d":8},{"r":[0],"c":5,"l":"u5","x":298,"d":5},
{"r":[0],"c":5,"l":"u6","x":0,"d":24},{"r":[0],"c":5,"l":"u6","x":20,"d":17},{"r":[0],"c":5,"l":"u6","x":30,"d":8},{"r":[0],"c":5,"l":"u6","x":33,"d":0},
{"r":[0],"c":5,"l":"u7","x":0,"d":22},{"r":[0],"c":5,"l":"u7","x":15,"d":12},{"r":[0],"c":5,"l":"u7","x":22,"d":0},
{"r":[0],"c":5,"l":"u8","x":0,"d":18},{"r":[0],"c":5,"l":"u8","x":10,"d":8},{"r":[0],"c":5,"l":"u8","x":14,"d":0},
{"r":[0],"c":5,"l":"dw","x":263,"d":300},{"r":[0],"c":5,"l":"dw","x":268,"d":265},{"r":[0],"c":5,"l":"dw","x":283,"d":243},{"r":[0],"c":5,"l":"dw","x":298,"d":231},
{"r":[0],"c":5,"l":"d1","x":63,"d":76},{"r":[0],"c":5,"l":"d1","x":70,"d":90},{"r":[0],"c":5,"l":"d1","x":90,"d":110},{"r":[0],"c":5,"l":"d1","x":117,"d":148},{"r":[0],"c":5,"l":"d1","x":147,"d":197},{"r":[0],"c":5,"l":"d1","x":167,"d":232},{"r":[0],"c":5,"l":"d1","x":175,"d":256},{"r":[0],"c":5,"l":"d1","x":176,"d":300},
{"r":[0],"c":5,"l":"d2b","x":0,"d":92},{"r":[0],"c":5,"l":"d2b","x":38,"d":105},{"r":[0],"c":5,"l":"d2b","x":63,"d":120},{"r":[0],"c":5,"l":"d2b","x":97,"d":155},{"r":[0],"c":5,"l":"d2b","x":117,"d":182},{"r":[0],"c":5,"l":"d2b","x":133,"d":216},{"r":[0],"c":5,"l":"d2b","x":145,"d":254},{"r":[0],"c":5,"l":"d2b","x":149,"d":300},
{"r":[0],"c":5,"l":"d3","x":0,"d":100},{"r":[0],"c":5,"l":"d3","x":40,"d":121},{"r":[0],"c":5,"l":"d3","x":70,"d":140},{"r":[0],"c":5,"l":"d3","x":95,"d":170},{"r":[0],"c":5,"l":"d3","x":118,"d":216},{"r":[0],"c":5,"l":"d3","x":128,"d":250},{"r":[0],"c":5,"l":"d3","x":135,"d":300},
{"r":[0],"c":5,"l":"d4","x":0,"d":108},{"r":[0],"c":5,"l":"d4","x":35,"d":125},{"r":[0],"c":5,"l":"d4","x":65,"d":150},{"r":[0],"c":5,"l":"d4","x":90,"d":185},{"r":[0],"c":5,"l":"d4","x":108,"d":225},{"r":[0],"c":5,"l":"d4","x":120,"d":265},{"r":[0],"c":5,"l":"d4","x":125,"d":300},
{"r":[0],"c":5,"l":"d5","x":0,"d":115},{"r":[0],"c":5,"l":"d5","x":30,"d":135},{"r":[0],"c":5,"l":"d5","x":55,"d":157},{"r":[0],"c":5,"l":"d5","x":80,"d":195},{"r":[0],"c":5,"l":"d5","x":97,"d":235},{"r":[0],"c":5,"l":"d5","x":107,"d":264},{"r":[0],"c":5,"l":"d5","x":112,"d":300},
{"r":[0],"c":5,"l":"d6","x":0,"d":125},{"r":[0],"c":5,"l":"d6","x":28,"d":145},{"r":[0],"c":5,"l":"d6","x":50,"d":170},{"r":[0],"c":5,"l":"d6","x":72,"d":205},{"r":[0],"c":5,"l":"d6","x":88,"d":245},{"r":[0],"c":5,"l":"d6","x":97,"d":280},{"r":[0],"c":5,"l":"d6","x":100,"d":300},
{"r":[0],"c":5,"l":"d7","x":0,"d":135},{"r":[0],"c":5,"l":"d7","x":20,"d":150},{"r":[0],"c":5,"l":"d7","x":38,"d":169},{"r":[0],"c":5,"l":"d7","x":60,"d":200},{"r":[0],"c":5,"l":"d7","x":78,"d":245},{"r":[0],"c":5,"l":"d7","x":86,"d":280},{"r":[0],"c":5,"l":"d7","x":88,"d":300},
{"r":[0],"c":5,"l":"d8","x":0,"d":148},{"r":[0],"c":5,"l":"d8","x":20,"d":165},{"r":[0],"c":5,"l":"d8","x":38,"d":180},{"r":[0],"c":5,"l":"d8","x":55,"d":215},{"r":[0],"c":5,"l":"d8","x":68,"d":255},{"r":[0],"c":5,"l":"d8","x":76,"d":300},
{"r":[0],"c":5,"l":"d9","x":0,"d":160},{"r":[0],"c":5,"l":"d9","x":15,"d":172},{"r":[0],"c":5,"l":"d9","x":30,"d":185},{"r":[0],"c":5,"l":"d9","x":48,"d":225},{"r":[0],"c":5,"l":"d9","x":60,"d":265},{"r":[0],"c":5,"l":"d9","x":65,"d":300},
{"r":[0],"c":5,"l":"d10","x":0,"d":172},{"r":[0],"c":5,"l":"d10","x":15,"d":188},{"r":[0],"c":5,"l":"d10","x":30,"d":210},{"r":[0],"c":5,"l":"d10","x":42,"d":245},{"r":[0],"c":5,"l":"d10","x":52,"d":300},
{"r":[0],"c":5,"l":"d11","x":0,"d":195},{"r":[0],"c":5,"l":"d11","x":15,"d":210},{"r":[0],"c":5,"l":"d11","x":28,"d":229},{"r":[0],"c":5,"l":"d11","x":36,"d":260},{"r":[0],"c":5,"l":"d11","x":40,"d":300},
{"r":[0],"c":5,"l":"d12","x":0,"d":225},{"r":[0],"c":5,"l":"d12","x":12,"d":240},{"r":[0],"c":5,"l":"d12","x":20,"d":260},{"r":[0],"c":5,"l":"d12","x":28,"d":300},
{"r":[0],"c":5,"l":"d13","x":0,"d":240},{"r":[0],"c":5,"l":"d13","x":8,"d":255},{"r":[0],"c":5,"l":"d13","x":14,"d":275},{"r":[0],"c":5,"l":"d13","x":18,"d":300},
{"r":[0],"c":5,"l":"mp","x":2,"d":55,"e":72},{"r":[0],"c":5,"l":"mp","x":10,"d":63,"e":71},{"r":[0],"c":5,"l":"mp","x":18,"d":67,"e":72},{"r":[0],"c":5,"l":"mp","x":22,"d":68,"e":70},
{"r":[0],"c":5,"l":"mz","x":98,"d":0,"e":12},{"r":[0],"c":5,"l":"mz","x":108,"d":0,"e":20},{"r":[0],"c":5,"l":"mz","x":122,"d":0,"e":25},
{"r":[0],"c":5,"l":"mw","x":175,"d":198,"e":198},{"r":[0],"c":5,"l":"mw","x":185,"d":187,"e":203},{"r":[0],"c":5,"l":"mw","x":195,"d":195,"e":200},
{"r":[1],"c":2,"l":"bS","x":0,"d":300},{"r":[1],"c":2,"l":"bS","x":298,"d":300},
{"r":[1],"c":2,"l":"s28","x":0,"d":20},{"r":[1],"c":2,"l":"s28","x":35,"d":19},{"r":[1],"c":2,"l":"s28","x":66,"d":10},{"r":[1],"c":2,"l":"s28","x":106,"d":4},{"r":[1],"c":2,"l":"s28","x":140,"d":0},{"r":[1],"c":2,"l":"s28","x":297,"d":0},
{"r":[1],"c":2,"l":"s32","x":0,"d":28},{"r":[1],"c":2,"l":"s32","x":37,"d":20},{"r":[1],"c":2,"l":"s32","x":75,"d":15},{"r":[1],"c":2,"l":"s32","x":137,"d":14},{"r":[1],"c":2,"l":"s32","x":168,"d":13},{"r":[1],"c":2,"l":"s32","x":179,"d":3},{"r":[1],"c":2,"l":"s32","x":195,"d":0},{"r":[1],"c":2,"l":"s32","x":297,"d":0},
{"r":[1],"c":2,"l":"s34","x":0,"d":29},{"r":[1],"c":2,"l":"s34","x":35,"d":25},{"r":[1],"c":2,"l":"s34","x":75,"d":20},{"r":[1],"c":2,"l":"s34","x":128,"d":19},{"r":[1],"c":2,"l":"s34","x":177,"d":20},{"r":[1],"c":2,"l":"s34","x":206,"d":19},{"r":[1],"c":2,"l":"s34","x":264,"d":22},{"r":[1],"c":2,"l":"s34","x":297,"d":25},
{"r":[1],"c":2,"l":"s36","x":0,"d":32},{"r":[1],"c":2,"l":"s36","x":35,"d":28},{"r":[1],"c":2,"l":"s36","x":70,"d":26},{"r":[1],"c":2,"l":"s36","x":177,"d":25},{"r":[1],"c":2,"l":"s36","x":205,"d":22},{"r":[1],"c":2,"l":"s36","x":264,"d":30},{"r":[1],"c":2,"l":"s36","x":297,"d":33},
{"r":[1],"c":2,"l":"s38","x":0,"d":36},{"r":[1],"c":2,"l":"s38","x":35,"d":30},{"r":[1],"c":2,"l":"s38","x":75,"d":35},{"r":[1],"c":2,"l":"s38","x":128,"d":38},{"r":[1],"c":2,"l":"s38","x":177,"d":33},{"r":[1],"c":2,"l":"s38","x":205,"d":28},{"r":[1],"c":2,"l":"s38","x":238,"d":36},{"r":[1],"c":2,"l":"s38","x":297,"d":39},
{"r":[1],"c":2,"l":"s40","x":0,"d":46},{"r":[1],"c":2,"l":"s40","x":35,"d":39},{"r":[1],"c":2,"l":"s40","x":66,"d":46},{"r":[1],"c":2,"l":"s40","x":106,"d":45},{"r":[1],"c":2,"l":"s40","x":140,"d":48},{"r":[1],"c":2,"l":"s40","x":165,"d":45},{"r":[1],"c":2,"l":"s40","x":205,"d":33},{"r":[1],"c":2,"l":"s40","x":238,"d":42},{"r":[1],"c":2,"l":"s40","x":297,"d":44},
{"r":[1],"c":2,"l":"s42","x":0,"d":88},{"r":[1],"c":2,"l":"s42","x":13,"d":62},{"r":[1],"c":2,"l":"s42","x":35,"d":57},{"r":[1],"c":2,"l":"s42","x":75,"d":62},{"r":[1],"c":2,"l":"s42","x":128,"d":65},{"r":[1],"c":2,"l":"s42","x":177,"d":55},{"r":[1],"c":2,"l":"s42","x":204,"d":52},{"r":[1],"c":2,"l":"s42","x":238,"d":52},{"r":[1],"c":2,"l":"s42","x":297,"d":58},
{"r":[1],"c":2,"l":"s44","x":0,"d":148},{"r":[1],"c":2,"l":"s44","x":17,"d":135},{"r":[1],"c":2,"l":"s44","x":48,"d":130},{"r":[1],"c":2,"l":"s44","x":79,"d":138},{"r":[1],"c":2,"l":"s44","x":110,"d":154},{"r":[1],"c":2,"l":"s44","x":137,"d":142},{"r":[1],"c":2,"l":"s44","x":170,"d":132},{"r":[1],"c":2,"l":"s44","x":204,"d":140},{"r":[1],"c":2,"l":"s44","x":230,"d":178},{"r":[1],"c":2,"l":"s44","x":235,"d":198},{"r":[1],"c":2,"l":"s44","x":257,"d":233},{"r":[1],"c":2,"l":"s44","x":274,"d":280},{"r":[1],"c":2,"l":"s44","x":275,"d":300},
{"r":[1],"c":2,"l":"s46","x":0,"d":238},{"r":[1],"c":2,"l":"s46","x":35,"d":215},{"r":[1],"c":2,"l":"s46","x":66,"d":225},{"r":[1],"c":2,"l":"s46","x":106,"d":239},{"r":[1],"c":2,"l":"s46","x":150,"d":248},{"r":[1],"c":2,"l":"s46","x":181,"d":268},{"r":[1],"c":2,"l":"s46","x":205,"d":300},
{"r":[1],"c":3,"l":"bS","x":0,"d":300},{"r":[1],"c":3,"l":"bS","x":298,"d":300},
{"r":[1],"c":3,"l":"s28","x":0,"d":0},{"r":[1],"c":3,"l":"s28","x":244,"d":0},{"r":[1],"c":3,"l":"s28","x":262,"d":15},{"r":[1],"c":3,"l":"s28","x":280,"d":28},{"r":[1],"c":3,"l":"s28","x":291,"d":20},{"r":[1],"c":3,"l":"s28","x":298,"d":25},
{"r":[1],"c":3,"l":"s32","x":0,"d":0},{"r":[1],"c":3,"l":"s32","x":170,"d":0},{"r":[1],"c":3,"l":"s32","x":179,"d":16},{"r":[1],"c":3,"l":"s32","x":190,"d":0},{"r":[1],"c":3,"l":"s32","x":230,"d":0},{"r":[1],"c":3,"l":"s32","x":255,"d":13},{"r":[1],"c":3,"l":"s32","x":275,"d":33},{"r":[1],"c":3,"l":"s32","x":288,"d":36},{"r":[1],"c":3,"l":"s32","x":298,"d":28},
{"r":[1],"c":3,"l":"s34","x":0,"d":22},{"r":[1],"c":3,"l":"s34","x":15,"d":12},{"r":[1],"c":3,"l":"s34","x":40,"d":8},{"r":[1],"c":3,"l":"s34","x":90,"d":9},{"r":[1],"c":3,"l":"s34","x":150,"d":12},{"r":[1],"c":3,"l":"s34","x":179,"d":18},{"r":[1],"c":3,"l":"s34","x":210,"d":15},{"r":[1],"c":3,"l":"s34","x":237,"d":10},{"r":[1],"c":3,"l":"s34","x":255,"d":24},{"r":[1],"c":3,"l":"s34","x":275,"d":38},{"r":[1],"c":3,"l":"s34","x":288,"d":40},{"r":[1],"c":3,"l":"s34","x":298,"d":33},
{"r":[1],"c":3,"l":"s36","x":0,"d":26},{"r":[1],"c":3,"l":"s36","x":15,"d":18},{"r":[1],"c":3,"l":"s36","x":45,"d":14},{"r":[1],"c":3,"l":"s36","x":90,"d":15},{"r":[1],"c":3,"l":"s36","x":150,"d":20},{"r":[1],"c":3,"l":"s36","x":179,"d":23},{"r":[1],"c":3,"l":"s36","x":210,"d":22},{"r":[1],"c":3,"l":"s36","x":238,"d":18},{"r":[1],"c":3,"l":"s36","x":255,"d":32},{"r":[1],"c":3,"l":"s36","x":275,"d":42},{"r":[1],"c":3,"l":"s36","x":288,"d":44},{"r":[1],"c":3,"l":"s36","x":298,"d":38},
{"r":[1],"c":3,"l":"s38","x":0,"d":33},{"r":[1],"c":3,"l":"s38","x":30,"d":26},{"r":[1],"c":3,"l":"s38","x":60,"d":25},{"r":[1],"c":3,"l":"s38","x":120,"d":29},{"r":[1],"c":3,"l":"s38","x":170,"d":32},{"r":[1],"c":3,"l":"s38","x":180,"d":30},{"r":[1],"c":3,"l":"s38","x":210,"d":34},{"r":[1],"c":3,"l":"s38","x":238,"d":28},{"r":[1],"c":3,"l":"s38","x":258,"d":40},{"r":[1],"c":3,"l":"s38","x":280,"d":46},{"r":[1],"c":3,"l":"s38","x":298,"d":42},
{"r":[1],"c":3,"l":"s40","x":0,"d":45},{"r":[1],"c":3,"l":"s40","x":30,"d":45},{"r":[1],"c":3,"l":"s40","x":58,"d":37},{"r":[1],"c":3,"l":"s40","x":90,"d":40},{"r":[1],"c":3,"l":"s40","x":135,"d":41},{"r":[1],"c":3,"l":"s40","x":165,"d":35},{"r":[1],"c":3,"l":"s40","x":179,"d":30},{"r":[1],"c":3,"l":"s40","x":195,"d":40},{"r":[1],"c":3,"l":"s40","x":225,"d":42},{"r":[1],"c":3,"l":"s40","x":238,"d":36},{"r":[1],"c":3,"l":"s40","x":255,"d":45},{"r":[1],"c":3,"l":"s40","x":275,"d":48},{"r":[1],"c":3,"l":"s40","x":298,"d":44},
{"r":[1],"c":3,"l":"s42","x":0,"d":70},{"r":[1],"c":3,"l":"s42","x":10,"d":62},{"r":[1],"c":3,"l":"s42","x":40,"d":68},{"r":[1],"c":3,"l":"s42","x":60,"d":70},{"r":[1],"c":3,"l":"s42","x":100,"d":65},{"r":[1],"c":3,"l":"s42","x":150,"d":55},{"r":[1],"c":3,"l":"s42","x":179,"d":55},{"r":[1],"c":3,"l":"s42","x":200,"d":65},{"r":[1],"c":3,"l":"s42","x":212,"d":68},{"r":[1],"c":3,"l":"s42","x":228,"d":60},{"r":[1],"c":3,"l":"s42","x":245,"d":55},{"r":[1],"c":3,"l":"s42","x":270,"d":52},{"r":[1],"c":3,"l":"s42","x":298,"d":52},
{"r":[1],"c":3,"l":"s44","x":0,"d":125},{"r":[1],"c":3,"l":"s44","x":30,"d":125},{"r":[1],"c":3,"l":"s44","x":60,"d":135},{"r":[1],"c":3,"l":"s44","x":100,"d":141},{"r":[1],"c":3,"l":"s44","x":130,"d":130},{"r":[1],"c":3,"l":"s44","x":165,"d":113},{"r":[1],"c":3,"l":"s44","x":190,"d":125},{"r":[1],"c":3,"l":"s44","x":215,"d":150},{"r":[1],"c":3,"l":"s44","x":230,"d":170},{"r":[1],"c":3,"l":"s44","x":247,"d":170},{"r":[1],"c":3,"l":"s44","x":270,"d":155},{"r":[1],"c":3,"l":"s44","x":290,"d":138},{"r":[1],"c":3,"l":"s44","x":298,"d":136},
{"r":[1],"c":3,"l":"s46","x":0,"d":198},{"r":[1],"c":3,"l":"s46","x":50,"d":239},{"r":[1],"c":3,"l":"s46","x":98,"d":251},{"r":[1],"c":3,"l":"s46","x":138,"d":237},{"r":[1],"c":3,"l":"s46","x":155,"d":216},{"r":[1],"c":3,"l":"s46","x":165,"d":193},{"r":[1],"c":3,"l":"s46","x":183,"d":186},{"r":[1],"c":3,"l":"s46","x":200,"d":193},{"r":[1],"c":3,"l":"s46","x":212,"d":208},{"r":[1],"c":3,"l":"s46","x":222,"d":300},
{"r":[1],"c":4,"l":"bS","x":0,"d":300},{"r":[1],"c":4,"l":"bS","x":298,"d":300},
{"r":[1],"c":4,"l":"s24","x":109,"d":0},{"r":[1],"c":4,"l":"s24","x":127,"d":8},{"r":[1],"c":4,"l":"s24","x":149,"d":8},{"r":[1],"c":4,"l":"s24","x":166,"d":0},
{"r":[1],"c":4,"l":"s28","x":0,"d":0},{"r":[1],"c":4,"l":"s28","x":100,"d":0},{"r":[1],"c":4,"l":"s28","x":127,"d":18},{"r":[1],"c":4,"l":"s28","x":150,"d":20},{"r":[1],"c":4,"l":"s28","x":170,"d":12},{"r":[1],"c":4,"l":"s28","x":190,"d":0},{"r":[1],"c":4,"l":"s28","x":298,"d":0},
{"r":[1],"c":4,"l":"s32","x":0,"d":0},{"r":[1],"c":4,"l":"s32","x":95,"d":0},{"r":[1],"c":4,"l":"s32","x":120,"d":22},{"r":[1],"c":4,"l":"s32","x":150,"d":26},{"r":[1],"c":4,"l":"s32","x":178,"d":24},{"r":[1],"c":4,"l":"s32","x":195,"d":10},{"r":[1],"c":4,"l":"s32","x":210,"d":0},{"r":[1],"c":4,"l":"s32","x":298,"d":0},
{"r":[1],"c":4,"l":"s34","x":0,"d":0},{"r":[1],"c":4,"l":"s34","x":70,"d":0},{"r":[1],"c":4,"l":"s34","x":100,"d":13},{"r":[1],"c":4,"l":"s34","x":125,"d":25},{"r":[1],"c":4,"l":"s34","x":150,"d":29},{"r":[1],"c":4,"l":"s34","x":178,"d":26},{"r":[1],"c":4,"l":"s34","x":195,"d":18},{"r":[1],"c":4,"l":"s34","x":215,"d":0},{"r":[1],"c":4,"l":"s34","x":298,"d":0},
{"r":[1],"c":4,"l":"s36","x":0,"d":0},{"r":[1],"c":4,"l":"s36","x":62,"d":0},{"r":[1],"c":4,"l":"s36","x":90,"d":22},{"r":[1],"c":4,"l":"s36","x":125,"d":28},{"r":[1],"c":4,"l":"s36","x":150,"d":31},{"r":[1],"c":4,"l":"s36","x":178,"d":28},{"r":[1],"c":4,"l":"s36","x":198,"d":20},{"r":[1],"c":4,"l":"s36","x":218,"d":4},{"r":[1],"c":4,"l":"s36","x":225,"d":0},{"r":[1],"c":4,"l":"s36","x":298,"d":0},
{"r":[1],"c":4,"l":"s38","x":0,"d":0},{"r":[1],"c":4,"l":"s38","x":55,"d":0},{"r":[1],"c":4,"l":"s38","x":75,"d":18},{"r":[1],"c":4,"l":"s38","x":110,"d":31},{"r":[1],"c":4,"l":"s38","x":150,"d":33},{"r":[1],"c":4,"l":"s38","x":178,"d":30},{"r":[1],"c":4,"l":"s38","x":200,"d":26},{"r":[1],"c":4,"l":"s38","x":218,"d":30},{"r":[1],"c":4,"l":"s38","x":228,"d":18},{"r":[1],"c":4,"l":"s38","x":245,"d":8},{"r":[1],"c":4,"l":"s38","x":270,"d":5},{"r":[1],"c":4,"l":"s38","x":298,"d":0},
{"r":[1],"c":4,"l":"s39","x":0,"d":30},{"r":[1],"c":4,"l":"s39","x":30,"d":20},{"r":[1],"c":4,"l":"s39","x":58,"d":18},{"r":[1],"c":4,"l":"s39","x":75,"d":24},{"r":[1],"c":4,"l":"s39","x":100,"d":35},{"r":[1],"c":4,"l":"s39","x":150,"d":38},{"r":[1],"c":4,"l":"s39","x":178,"d":33},{"r":[1],"c":4,"l":"s39","x":200,"d":30},{"r":[1],"c":4,"l":"s39","x":218,"d":36},{"r":[1],"c":4,"l":"s39","x":235,"d":25},{"r":[1],"c":4,"l":"s39","x":262,"d":20},{"r":[1],"c":4,"l":"s39","x":298,"d":20},
{"r":[1],"c":4,"l":"s40","x":0,"d":43},{"r":[1],"c":4,"l":"s40","x":30,"d":45},{"r":[1],"c":4,"l":"s40","x":60,"d":40},{"r":[1],"c":4,"l":"s40","x":120,"d":42},{"r":[1],"c":4,"l":"s40","x":150,"d":47},{"r":[1],"c":4,"l":"s40","x":170,"d":42},{"r":[1],"c":4,"l":"s40","x":182,"d":30},{"r":[1],"c":4,"l":"s40","x":200,"d":38},{"r":[1],"c":4,"l":"s40","x":220,"d":42},{"r":[1],"c":4,"l":"s40","x":245,"d":30},{"r":[1],"c":4,"l":"s40","x":265,"d":30},{"r":[1],"c":4,"l":"s40","x":298,"d":38},
{"r":[1],"c":4,"l":"s42","x":0,"d":65},{"r":[1],"c":4,"l":"s42","x":25,"d":60},{"r":[1],"c":4,"l":"s42","x":60,"d":45},{"r":[1],"c":4,"l":"s42","x":85,"d":52},{"r":[1],"c":4,"l":"s42","x":105,"d":58},{"r":[1],"c":4,"l":"s42","x":120,"d":48},{"r":[1],"c":4,"l":"s42","x":140,"d":55},{"r":[1],"c":4,"l":"s42","x":175,"d":42},{"r":[1],"c":4,"l":"s42","x":200,"d":48},{"r":[1],"c":4,"l":"s42","x":225,"d":50},{"r":[1],"c":4,"l":"s42","x":245,"d":45},{"r":[1],"c":4,"l":"s42","x":262,"d":45},{"r":[1],"c":4,"l":"s42","x":298,"d":58},
{"r":[1],"c":4,"l":"s44","x":0,"d":125},{"r":[1],"c":4,"l":"s44","x":30,"d":130},{"r":[1],"c":4,"l":"s44","x":60,"d":150},{"r":[1],"c":4,"l":"s44","x":100,"d":185},{"r":[1],"c":4,"l":"s44","x":135,"d":212},{"r":[1],"c":4,"l":"s44","x":165,"d":230},{"r":[1],"c":4,"l":"s44","x":195,"d":230},{"r":[1],"c":4,"l":"s44","x":210,"d":210},{"r":[1],"c":4,"l":"s44","x":226,"d":150},{"r":[1],"c":4,"l":"s44","x":240,"d":115},{"r":[1],"c":4,"l":"s44","x":260,"d":95},{"r":[1],"c":4,"l":"s44","x":270,"d":90},{"r":[1],"c":4,"l":"s44","x":278,"d":115},{"r":[1],"c":4,"l":"s44","x":285,"d":150},{"r":[1],"c":4,"l":"s44","x":298,"d":168},
{"r":[1],"c":4,"l":"s46","x":0,"d":195},{"r":[1],"c":4,"l":"s46","x":25,"d":215},{"r":[1],"c":4,"l":"s46","x":45,"d":250},{"r":[1],"c":4,"l":"s46","x":60,"d":300},
{"r":[1],"c":5,"l":"bS","x":0,"d":300},{"r":[1],"c":5,"l":"bS","x":298,"d":300},
{"r":[1],"c":5,"l":"s24","x":95,"d":0},{"r":[1],"c":5,"l":"s24","x":115,"d":12},{"r":[1],"c":5,"l":"s24","x":135,"d":0},
{"r":[1],"c":5,"l":"s28","x":0,"d":0},{"r":[1],"c":5,"l":"s28","x":75,"d":0},{"r":[1],"c":5,"l":"s28","x":100,"d":10},{"r":[1],"c":5,"l":"s28","x":115,"d":18},{"r":[1],"c":5,"l":"s28","x":135,"d":10},{"r":[1],"c":5,"l":"s28","x":165,"d":3},{"r":[1],"c":5,"l":"s28","x":200,"d":2},{"r":[1],"c":5,"l":"s28","x":298,"d":0},
{"r":[1],"c":5,"l":"s32","x":0,"d":0},{"r":[1],"c":5,"l":"s32","x":30,"d":0},{"r":[1],"c":5,"l":"s32","x":70,"d":10},{"r":[1],"c":5,"l":"s32","x":115,"d":22},{"r":[1],"c":5,"l":"s32","x":150,"d":20},{"r":[1],"c":5,"l":"s32","x":195,"d":15},{"r":[1],"c":5,"l":"s32","x":230,"d":10},{"r":[1],"c":5,"l":"s32","x":298,"d":5},
{"r":[1],"c":5,"l":"s34","x":0,"d":0},{"r":[1],"c":5,"l":"s34","x":15,"d":0},{"r":[1],"c":5,"l":"s34","x":60,"d":18},{"r":[1],"c":5,"l":"s34","x":115,"d":28},{"r":[1],"c":5,"l":"s34","x":160,"d":24},{"r":[1],"c":5,"l":"s34","x":195,"d":18},{"r":[1],"c":5,"l":"s34","x":240,"d":15},{"r":[1],"c":5,"l":"s34","x":298,"d":10},
{"r":[1],"c":5,"l":"s36","x":0,"d":0},{"r":[1],"c":5,"l":"s36","x":10,"d":3},{"r":[1],"c":5,"l":"s36","x":30,"d":14},{"r":[1],"c":5,"l":"s36","x":70,"d":25},{"r":[1],"c":5,"l":"s36","x":115,"d":32},{"r":[1],"c":5,"l":"s36","x":160,"d":28},{"r":[1],"c":5,"l":"s36","x":195,"d":22},{"r":[1],"c":5,"l":"s36","x":245,"d":20},{"r":[1],"c":5,"l":"s36","x":298,"d":13},
{"r":[1],"c":5,"l":"s38","x":0,"d":4},{"r":[1],"c":5,"l":"s38","x":30,"d":22},{"r":[1],"c":5,"l":"s38","x":70,"d":36},{"r":[1],"c":5,"l":"s38","x":115,"d":38},{"r":[1],"c":5,"l":"s38","x":160,"d":32},{"r":[1],"c":5,"l":"s38","x":195,"d":24},{"r":[1],"c":5,"l":"s38","x":245,"d":25},{"r":[1],"c":5,"l":"s38","x":298,"d":15},
{"r":[1],"c":5,"l":"s40","x":0,"d":38},{"r":[1],"c":5,"l":"s40","x":20,"d":50},{"r":[1],"c":5,"l":"s40","x":40,"d":58},{"r":[1],"c":5,"l":"s40","x":65,"d":60},{"r":[1],"c":5,"l":"s40","x":100,"d":44},{"r":[1],"c":5,"l":"s40","x":115,"d":42},{"r":[1],"c":5,"l":"s40","x":140,"d":42},{"r":[1],"c":5,"l":"s40","x":165,"d":35},{"r":[1],"c":5,"l":"s40","x":195,"d":27},{"r":[1],"c":5,"l":"s40","x":215,"d":30},{"r":[1],"c":5,"l":"s40","x":250,"d":28},{"r":[1],"c":5,"l":"s40","x":280,"d":25},{"r":[1],"c":5,"l":"s40","x":298,"d":15},
{"r":[1],"c":5,"l":"s42","x":0,"d":72},{"r":[1],"c":5,"l":"s42","x":40,"d":85},{"r":[1],"c":5,"l":"s42","x":75,"d":82},{"r":[1],"c":5,"l":"s42","x":100,"d":65},{"r":[1],"c":5,"l":"s42","x":115,"d":56},{"r":[1],"c":5,"l":"s42","x":140,"d":50},{"r":[1],"c":5,"l":"s42","x":165,"d":46},{"r":[1],"c":5,"l":"s42","x":195,"d":38},{"r":[1],"c":5,"l":"s42","x":225,"d":44},{"r":[1],"c":5,"l":"s42","x":255,"d":38},{"r":[1],"c":5,"l":"s42","x":298,"d":30},
{"r":[1],"c":5,"l":"s44","x":0,"d":132},{"r":[1],"c":5,"l":"s44","x":30,"d":135},{"r":[1],"c":5,"l":"s44","x":58,"d":155},{"r":[1],"c":5,"l":"s44","x":85,"d":190},{"r":[1],"c":5,"l":"s44","x":115,"d":235},{"r":[1],"c":5,"l":"s44","x":145,"d":275},{"r":[1],"c":5,"l":"s44","x":151,"d":300},{"r":[1],"c":5,"l":"s44","x":210,"d":300},{"r":[1],"c":5,"l":"s44","x":222,"d":240},{"r":[1],"c":5,"l":"s44","x":234,"d":198},{"r":[1],"c":5,"l":"s44","x":257,"d":133},{"r":[1],"c":5,"l":"s44","x":268,"d":104},{"r":[1],"c":5,"l":"s44","x":277,"d":100},{"r":[1],"c":5,"l":"s44","x":280,"d":116},{"r":[1],"c":5,"l":"s44","x":298,"d":136},
{"r":[1],"c":5,"l":"s46","x":0,"d":210},{"r":[1],"c":5,"l":"s46","x":20,"d":245},{"r":[1],"c":5,"l":"s46","x":40,"d":280},{"r":[1],"c":5,"l":"s46","x":51,"d":300},
{"r":[2],"c":2,"l":"u0w","x":0,"d":252},{"r":[2],"c":2,"l":"u0w","x":30,"d":223},{"r":[2],"c":2,"l":"u0w","x":62,"d":212},{"r":[2],"c":2,"l":"u0w","x":106,"d":222},{"r":[2],"c":2,"l":"u0w","x":150,"d":232},{"r":[2],"c":2,"l":"u0w","x":175,"d":240},{"r":[2],"c":2,"l":"u0w","x":190,"d":258},
{"r":[2],"c":2,"l":"u0x","x":141,"d":300},{"r":[2],"c":2,"l":"u0x","x":150,"d":280},{"r":[2],"c":2,"l":"u0x","x":170,"d":265},{"r":[2],"c":2,"l":"u0x","x":190,"d":258},
{"r":[2],"c":2,"l":"m5","x":0,"d":26,"e":97},{"r":[2],"c":2,"l":"m5","x":13,"d":39,"e":90},{"r":[2],"c":2,"l":"m5","x":35,"d":44,"e":85},{"r":[2],"c":2,"l":"m5","x":62,"d":44,"e":82},{"r":[2],"c":2,"l":"m5","x":75,"d":26,"e":68},{"r":[2],"c":2,"l":"m5","x":106,"d":9,"e":47},{"r":[2],"c":2,"l":"m5","x":126,"d":0,"e":47},{"r":[2],"c":2,"l":"m5","x":175,"d":0,"e":46},{"r":[2],"c":2,"l":"m5","x":232,"d":0,"e":52},{"r":[2],"c":2,"l":"m5","x":297,"d":0,"e":55},
{"r":[2],"c":2,"l":"t2","x":163,"d":0},{"r":[2],"c":2,"l":"t2","x":165,"d":24},{"r":[2],"c":2,"l":"t2","x":194,"d":29},{"r":[2],"c":2,"l":"t2","x":230,"d":38},{"r":[2],"c":2,"l":"t2","x":261,"d":46},{"r":[2],"c":2,"l":"t2","x":297,"d":46},
{"r":[2],"c":2,"l":"t3","x":232,"d":0},{"r":[2],"c":2,"l":"t3","x":233,"d":15},{"r":[2],"c":2,"l":"t3","x":243,"d":35},{"r":[2],"c":2,"l":"t3","x":270,"d":44},{"r":[2],"c":2,"l":"t3","x":297,"d":45},
{"r":[2],"c":2,"l":"t4","x":238,"d":0},{"r":[2],"c":2,"l":"t4","x":243,"d":20},{"r":[2],"c":2,"l":"t4","x":270,"d":35},{"r":[2],"c":2,"l":"t4","x":297,"d":41},
{"r":[2],"c":2,"l":"t5","x":258,"d":0},{"r":[2],"c":2,"l":"t5","x":265,"d":20},{"r":[2],"c":2,"l":"t5","x":282,"d":29},{"r":[2],"c":2,"l":"t5","x":297,"d":32},
{"r":[2],"c":2,"l":"t6","x":272,"d":0},{"r":[2],"c":2,"l":"t6","x":282,"d":15},{"r":[2],"c":2,"l":"t6","x":297,"d":18},
{"r":[2],"c":3,"l":"u0","x":0,"d":180},{"r":[2],"c":3,"l":"u0","x":19,"d":167},{"r":[2],"c":3,"l":"u0","x":52,"d":172},{"r":[2],"c":3,"l":"u0","x":125,"d":177},{"r":[2],"c":3,"l":"u0","x":142,"d":200},{"r":[2],"c":3,"l":"u0","x":169,"d":232},{"r":[2],"c":3,"l":"u0","x":200,"d":261},{"r":[2],"c":3,"l":"u0","x":203,"d":272},{"r":[2],"c":3,"l":"u0","x":204,"d":300},{"r":[2],"c":3,"l":"u0","x":298,"d":300},
{"r":[2],"c":3,"l":"m0","x":160,"d":300,"e":300},{"r":[2],"c":3,"l":"m0","x":180,"d":280,"e":300},{"r":[2],"c":3,"l":"m0","x":203,"d":270,"e":300},
{"r":[2],"c":3,"l":"m5","x":0,"d":17,"e":85},{"r":[2],"c":3,"l":"m5","x":15,"d":5,"e":83},{"r":[2],"c":3,"l":"m5","x":25,"d":0,"e":80},{"r":[2],"c":3,"l":"m5","x":40,"d":0,"e":78},{"r":[2],"c":3,"l":"m5","x":60,"d":0,"e":68},{"r":[2],"c":3,"l":"m5","x":78,"d":0,"e":55},{"r":[2],"c":3,"l":"m5","x":80,"d":0,"e":0},
{"r":[2],"c":3,"l":"m6","x":143,"d":0,"e":0},{"r":[2],"c":3,"l":"m6","x":145,"d":0,"e":28},{"r":[2],"c":3,"l":"m6","x":165,"d":0,"e":40},{"r":[2],"c":3,"l":"m6","x":190,"d":0,"e":52},{"r":[2],"c":3,"l":"m6","x":225,"d":0,"e":58},{"r":[2],"c":3,"l":"m6","x":245,"d":0,"e":60},{"r":[2],"c":3,"l":"m6","x":270,"d":0,"e":58},{"r":[2],"c":3,"l":"m6","x":298,"d":0,"e":55},
{"r":[2],"c":3,"l":"t2","x":167,"d":0},{"r":[2],"c":3,"l":"t2","x":170,"d":25},{"r":[2],"c":3,"l":"t2","x":190,"d":40},{"r":[2],"c":3,"l":"t2","x":225,"d":46},{"r":[2],"c":3,"l":"t2","x":250,"d":48},{"r":[2],"c":3,"l":"t2","x":298,"d":48},
{"r":[2],"c":3,"l":"t3","x":243,"d":0},{"r":[2],"c":3,"l":"t3","x":244,"d":20},{"r":[2],"c":3,"l":"t3","x":258,"d":40},{"r":[2],"c":3,"l":"t3","x":275,"d":46},{"r":[2],"c":3,"l":"t3","x":298,"d":45},
{"r":[2],"c":3,"l":"t4","x":250,"d":0},{"r":[2],"c":3,"l":"t4","x":254,"d":20},{"r":[2],"c":3,"l":"t4","x":265,"d":36},{"r":[2],"c":3,"l":"t4","x":280,"d":42},{"r":[2],"c":3,"l":"t4","x":298,"d":40},
{"r":[2],"c":3,"l":"t5","x":258,"d":0},{"r":[2],"c":3,"l":"t5","x":264,"d":18},{"r":[2],"c":3,"l":"t5","x":275,"d":32},{"r":[2],"c":3,"l":"t5","x":298,"d":36},
{"r":[2],"c":3,"l":"t6","x":268,"d":0},{"r":[2],"c":3,"l":"t6","x":275,"d":15},{"r":[2],"c":3,"l":"t6","x":290,"d":25},{"r":[2],"c":3,"l":"t6","x":298,"d":25},
{"r":[2],"c":4,"l":"u0","x":0,"d":179},{"r":[2],"c":4,"l":"u0","x":17,"d":166},{"r":[2],"c":4,"l":"u0","x":37,"d":166},{"r":[2],"c":4,"l":"u0","x":90,"d":177},{"r":[2],"c":4,"l":"u0","x":102,"d":199},{"r":[2],"c":4,"l":"u0","x":148,"d":210},{"r":[2],"c":4,"l":"u0","x":196,"d":216},{"r":[2],"c":4,"l":"u0","x":212,"d":225},{"r":[2],"c":4,"l":"u0","x":236,"d":245},{"r":[2],"c":4,"l":"u0","x":240,"d":250},{"r":[2],"c":4,"l":"u0","x":241,"d":300},{"r":[2],"c":4,"l":"u0","x":298,"d":300},
{"r":[2],"c":4,"l":"m0","x":217,"d":300,"e":300},{"r":[2],"c":4,"l":"m0","x":225,"d":280,"e":300},{"r":[2],"c":4,"l":"m0","x":240,"d":252,"e":300},
{"r":[2],"c":4,"l":"mw","x":270,"d":62,"e":62},{"r":[2],"c":4,"l":"mw","x":280,"d":62,"e":90},{"r":[2],"c":4,"l":"mw","x":287,"d":75,"e":104},{"r":[2],"c":4,"l":"mw","x":292,"d":85,"e":85},
{"r":[2],"c":4,"l":"mx","x":135,"d":130,"e":130},{"r":[2],"c":4,"l":"mx","x":143,"d":132,"e":140},{"r":[2],"c":4,"l":"mx","x":151,"d":140,"e":140},
{"r":[2],"c":4,"l":"m5","x":0,"d":36,"e":98},{"r":[2],"c":4,"l":"m5","x":25,"d":22,"e":102},{"r":[2],"c":4,"l":"m5","x":52,"d":8,"e":90},{"r":[2],"c":4,"l":"m5","x":54,"d":0,"e":90},{"r":[2],"c":4,"l":"m5","x":90,"d":0,"e":84},{"r":[2],"c":4,"l":"m5","x":125,"d":0,"e":76},{"r":[2],"c":4,"l":"m5","x":150,"d":0,"e":78},{"r":[2],"c":4,"l":"m5","x":180,"d":0,"e":66},{"r":[2],"c":4,"l":"m5","x":222,"d":0,"e":55},{"r":[2],"c":4,"l":"m5","x":240,"d":0,"e":62},{"r":[2],"c":4,"l":"m5","x":260,"d":0,"e":55},{"r":[2],"c":4,"l":"m5","x":298,"d":0,"e":50},
{"r":[2],"c":4,"l":"m1","x":0,"d":38,"e":92},{"r":[2],"c":4,"l":"m1","x":25,"d":29,"e":85},{"r":[2],"c":4,"l":"m1","x":50,"d":12,"e":72},{"r":[2],"c":4,"l":"m1","x":70,"d":2,"e":70},{"r":[2],"c":4,"l":"m1","x":105,"d":9,"e":62},{"r":[2],"c":4,"l":"m1","x":140,"d":18,"e":70},{"r":[2],"c":4,"l":"m1","x":178,"d":18,"e":58},{"r":[2],"c":4,"l":"m1","x":196,"d":2,"e":48},{"r":[2],"c":4,"l":"m1","x":210,"d":0,"e":45},{"r":[2],"c":4,"l":"m1","x":225,"d":0,"e":45},
{"r":[2],"c":4,"l":"t3","x":209,"d":0},{"r":[2],"c":4,"l":"t3","x":210,"d":23},{"r":[2],"c":4,"l":"t3","x":217,"d":35},{"r":[2],"c":4,"l":"t3","x":233,"d":43},{"r":[2],"c":4,"l":"t3","x":253,"d":46},{"r":[2],"c":4,"l":"t3","x":298,"d":42},
{"r":[2],"c":4,"l":"t4","x":222,"d":0},{"r":[2],"c":4,"l":"t4","x":224,"d":20},{"r":[2],"c":4,"l":"t4","x":235,"d":35},{"r":[2],"c":4,"l":"t4","x":255,"d":40},{"r":[2],"c":4,"l":"t4","x":298,"d":36},
{"r":[2],"c":4,"l":"t5","x":235,"d":0},{"r":[2],"c":4,"l":"t5","x":238,"d":18},{"r":[2],"c":4,"l":"t5","x":255,"d":30},{"r":[2],"c":4,"l":"t5","x":298,"d":28},
{"r":[2],"c":4,"l":"t6","x":238,"d":0},{"r":[2],"c":4,"l":"t6","x":245,"d":15},{"r":[2],"c":4,"l":"t6","x":262,"d":18},{"r":[2],"c":4,"l":"t6","x":285,"d":18},{"r":[2],"c":4,"l":"t6","x":298,"d":18},
{"r":[2],"c":5,"l":"u0","x":0,"d":167},{"r":[2],"c":5,"l":"u0","x":30,"d":172},{"r":[2],"c":5,"l":"u0","x":58,"d":175},{"r":[2],"c":5,"l":"u0","x":95,"d":185},{"r":[2],"c":5,"l":"u0","x":111,"d":210},{"r":[2],"c":5,"l":"u0","x":150,"d":217},{"r":[2],"c":5,"l":"u0","x":196,"d":218},{"r":[2],"c":5,"l":"u0","x":237,"d":218},{"r":[2],"c":5,"l":"u0","x":262,"d":203},{"r":[2],"c":5,"l":"u0","x":263,"d":180},{"r":[2],"c":5,"l":"u0","x":270,"d":150},{"r":[2],"c":5,"l":"u0","x":283,"d":135},{"r":[2],"c":5,"l":"u0","x":288,"d":150},{"r":[2],"c":5,"l":"u0","x":289,"d":300},{"r":[2],"c":5,"l":"u0","x":298,"d":300},
{"r":[2],"c":5,"l":"m0","x":204,"d":299,"e":299},{"r":[2],"c":5,"l":"m0","x":220,"d":284,"e":299},{"r":[2],"c":5,"l":"m0","x":240,"d":299,"e":299},
{"r":[2],"c":5,"l":"mw","x":125,"d":130,"e":140},{"r":[2],"c":5,"l":"mw","x":135,"d":118,"e":155},{"r":[2],"c":5,"l":"mw","x":155,"d":118,"e":150},{"r":[2],"c":5,"l":"mw","x":170,"d":125,"e":140},{"r":[2],"c":5,"l":"mw","x":180,"d":128,"e":130},
{"r":[2],"c":5,"l":"mx","x":243,"d":75,"e":85},{"r":[2],"c":5,"l":"mx","x":255,"d":62,"e":90},{"r":[2],"c":5,"l":"mx","x":270,"d":65,"e":94},{"r":[2],"c":5,"l":"mx","x":277,"d":80,"e":84},
{"r":[2],"c":5,"l":"m5","x":0,"d":37,"e":107},{"r":[2],"c":5,"l":"m5","x":30,"d":24,"e":113},{"r":[2],"c":5,"l":"m5","x":38,"d":10,"e":113},{"r":[2],"c":5,"l":"m5","x":40,"d":0,"e":113},{"r":[2],"c":5,"l":"m5","x":62,"d":0,"e":104},{"r":[2],"c":5,"l":"m5","x":91,"d":0,"e":88},{"r":[2],"c":5,"l":"m5","x":115,"d":0,"e":76},{"r":[2],"c":5,"l":"m5","x":140,"d":0,"e":76},{"r":[2],"c":5,"l":"m5","x":192,"d":0,"e":59},{"r":[2],"c":5,"l":"m5","x":224,"d":0,"e":59},{"r":[2],"c":5,"l":"m5","x":245,"d":0,"e":62},{"r":[2],"c":5,"l":"m5","x":260,"d":0,"e":42},{"r":[2],"c":5,"l":"m5","x":298,"d":0,"e":30},
{"r":[2],"c":5,"l":"m1","x":0,"d":80,"e":97},{"r":[2],"c":5,"l":"m1","x":38,"d":48,"e":95},{"r":[2],"c":5,"l":"m1","x":62,"d":42,"e":80},{"r":[2],"c":5,"l":"m1","x":72,"d":30,"e":70},{"r":[2],"c":5,"l":"m1","x":91,"d":10,"e":68},{"r":[2],"c":5,"l":"m1","x":110,"d":0,"e":66},{"r":[2],"c":5,"l":"m1","x":135,"d":0,"e":66},{"r":[2],"c":5,"l":"m1","x":172,"d":0,"e":47},{"r":[2],"c":5,"l":"m1","x":196,"d":0,"e":46},{"r":[2],"c":5,"l":"m1","x":220,"d":0,"e":55},{"r":[2],"c":5,"l":"m1","x":240,"d":0,"e":50},{"r":[2],"c":5,"l":"m1","x":260,"d":0,"e":42},{"r":[2],"c":5,"l":"m1","x":298,"d":0,"e":30},
{"r":[2],"c":5,"l":"t3","x":172,"d":0},{"r":[2],"c":5,"l":"t3","x":173,"d":17},{"r":[2],"c":5,"l":"t3","x":196,"d":24},{"r":[2],"c":5,"l":"t3","x":204,"d":36},{"r":[2],"c":5,"l":"t3","x":218,"d":46},{"r":[2],"c":5,"l":"t3","x":261,"d":33},{"r":[2],"c":5,"l":"t3","x":298,"d":20},
{"r":[2],"c":5,"l":"t4","x":203,"d":0},{"r":[2],"c":5,"l":"t4","x":205,"d":24},{"r":[2],"c":5,"l":"t4","x":220,"d":36},{"r":[2],"c":5,"l":"t4","x":260,"d":26},{"r":[2],"c":5,"l":"t4","x":298,"d":15},
{"r":[2],"c":5,"l":"t5","x":245,"d":0},{"r":[2],"c":5,"l":"t5","x":253,"d":12},{"r":[2],"c":5,"l":"t5","x":273,"d":17},{"r":[2],"c":5,"l":"t5","x":298,"d":14},
{"r":[2],"c":5,"l":"t6","x":265,"d":0},{"r":[2],"c":5,"l":"t6","x":277,"d":6},{"r":[2],"c":5,"l":"t6","x":298,"d":9},
{"r":[0,1,2],"c":2,"l":"g","x":271,"d":300},{"r":[0,1,2],"c":2,"l":"g","x":275,"d":282},{"r":[0,1,2],"c":2,"l":"g","x":277,"d":253},{"r":[0,1,2],"c":2,"l":"g","x":280,"d":221},{"r":[0,1,2],"c":2,"l":"g","x":285,"d":184},{"r":[0,1,2],"c":2,"l":"g","x":288,"d":149},{"r":[0,1,2],"c":2,"l":"g","x":293,"d":114},{"r":[0,1,2],"c":2,"l":"g","x":298,"d":110},
{"r":[0,1,2],"c":3,"l":"g","x":247,"d":300},{"r":[0,1,2],"c":3,"l":"g","x":250,"d":292},{"r":[0,1,2],"c":3,"l":"g","x":254,"d":283},{"r":[0,1,2],"c":3,"l":"g","x":258,"d":274},{"r":[0,1,2],"c":3,"l":"g","x":262,"d":264},{"r":[0,1,2],"c":3,"l":"g","x":265,"d":256},{"r":[0,1,2],"c":3,"l":"g","x":270,"d":247},{"r":[0,1,2],"c":3,"l":"g","x":275,"d":239},{"r":[0,1,2],"c":3,"l":"g","x":280,"d":227},{"r":[0,1,2],"c":3,"l":"g","x":285,"d":216},{"r":[0,1,2],"c":3,"l":"g","x":289,"d":208},{"r":[0,1,2],"c":3,"l":"g","x":293,"d":199},{"r":[0,1,2],"c":3,"l":"g","x":298,"d":197},
{"r":[0],"c":2,"x":133,"d":6,"t":"-0.6"},{"r":[0],"c":2,"x":62,"d":29,"t":"-1"},{"r":[0],"c":2,"x":87,"d":45,"t":"-1.5"},{"r":[0],"c":2,"x":193,"d":39,"t":"-1.5"},{"r":[0],"c":2,"x":245,"d":33,"t":"-1"},{"r":[0],"c":2,"x":58,"d":107,"t":"-1.5"},{"r":[0],"c":2,"x":50,"d":131,"t":"-1"},{"r":[0],"c":2,"x":57,"d":152,"t":"-0.6"},{"r":[0],"c":2,"x":58,"d":178,"t":"-0.2"},{"r":[0],"c":2,"x":52,"d":201,"t":"0.2"},{"r":[0],"c":2,"x":32,"d":241,"t":"0.6"},{"r":[0],"c":2,"x":164,"d":290,"t":"0.6"},{"r":[0],"c":2,"x":213,"d":155,"t":"-1"},{"r":[0],"c":2,"x":202,"d":179,"t":"-0.6"},{"r":[0],"c":2,"x":195,"d":218,"t":"-0.2"},{"r":[0],"c":2,"x":253,"d":184,"t":"-1.5"},{"r":[0],"c":2,"x":33,"d":277,"t":"T"},
{"r":[0],"c":3,"x":23,"d":8,"t":"0"},{"r":[0],"c":3,"x":89,"d":16,"t":"-0.4"},{"r":[0],"c":3,"x":143,"d":24,"t":"-0.8"},{"r":[0],"c":3,"x":253,"d":18,"t":"-1"},{"r":[0],"c":3,"x":105,"d":47,"t":"-1.5"},{"r":[0],"c":3,"x":93,"d":101,"t":"-1.5"},{"r":[0],"c":3,"x":48,"d":131,"t":"-0.8"},{"r":[0],"c":3,"x":76,"d":127,"t":"-1"},{"r":[0],"c":3,"x":78,"d":156,"t":"-0.6"},{"r":[0],"c":3,"x":229,"d":128,"t":"-1.5"},{"r":[0],"c":3,"x":55,"d":176,"t":"-0.2"},{"r":[0],"c":3,"x":40,"d":198,"t":"0.2"},{"r":[0],"c":3,"x":17,"d":217,"t":"0.6"},{"r":[0],"c":3,"x":152,"d":195,"t":"0.2"},{"r":[0],"c":3,"x":193,"d":195,"t":"0.6"},{"r":[0],"c":3,"x":213,"d":222,"t":"0.2"},{"r":[0],"c":3,"x":247,"d":218,"t":"-0.8"},{"r":[0],"c":3,"x":173,"d":256,"t":"0.6"},
{"r":[0],"c":4,"x":23,"d":9,"t":"0.6"},{"r":[0],"c":4,"x":33,"d":24,"t":"0.2"},{"r":[0],"c":4,"x":78,"d":27,"t":"-0.2"},{"r":[0],"c":4,"x":105,"d":34,"t":"-0.6"},{"r":[0],"c":4,"x":77,"d":42,"t":"-1"},{"r":[0],"c":4,"x":153,"d":32,"t":"-1.2"},{"r":[0],"c":4,"x":182,"d":40,"t":"-1.5"},{"r":[0],"c":4,"x":256,"d":33,"t":"-1.2"},{"r":[0],"c":4,"x":47,"d":115,"t":"-1.2"},{"r":[0],"c":4,"x":57,"d":135,"t":"-1"},{"r":[0],"c":4,"x":42,"d":146,"t":"-0.6"},{"r":[0],"c":4,"x":45,"d":167,"t":"-0.2"},{"r":[0],"c":4,"x":40,"d":186,"t":"0.2"},{"r":[0],"c":4,"x":33,"d":218,"t":"0.6"},{"r":[0],"c":4,"x":7,"d":247,"t":"1"},{"r":[0],"c":4,"x":143,"d":157,"t":"-1.5"},{"r":[0],"c":4,"x":133,"d":249,"t":"-0.6"},{"r":[0],"c":4,"x":170,"d":240,"t":"-1"},{"r":[0],"c":4,"x":187,"d":223,"t":"-1.2"},
{"r":[0],"c":5,"x":33,"d":15,"t":"-0.6"},{"r":[0],"c":5,"x":47,"d":31,"t":"-1"},{"r":[0],"c":5,"x":88,"d":33,"t":"-1.2"},{"r":[0],"c":5,"x":155,"d":35,"t":"-1.5"},{"r":[0],"c":5,"x":254,"d":22,"t":"-1.2"},{"r":[0],"c":5,"x":282,"d":10,"t":"-0.6"},{"r":[0],"c":5,"x":40,"d":121,"t":"-1"},{"r":[0],"c":5,"x":55,"d":157,"t":"-0.6"},{"r":[0],"c":5,"x":38,"d":169,"t":"-0.2"},{"r":[0],"c":5,"x":30,"d":186,"t":"0.2"},{"r":[0],"c":5,"x":29,"d":229,"t":"0.6"},{"r":[0],"c":5,"x":7,"d":252,"t":"1"},{"r":[0],"c":5,"x":103,"d":168,"t":"-1.2"},{"r":[0],"c":5,"x":119,"d":216,"t":"-1"},{"r":[0],"c":5,"x":157,"d":222,"t":"-1.5"},{"r":[0],"c":5,"x":107,"d":265,"t":"-0.6"},
{"r":[1],"c":2,"x":104,"d":15,"t":"33.2"},{"r":[1],"c":2,"x":76,"d":30,"t":"33.6"},{"r":[1],"c":2,"x":151,"d":48,"t":"34"},{"r":[1],"c":2,"x":89,"d":62,"t":"34.2"},{"r":[1],"c":2,"x":154,"d":138,"t":"34.4"},{"r":[1],"c":2,"x":122,"d":245,"t":"34.6"},{"r":[1],"c":2,"x":31,"d":278,"t":"S"},
{"r":[1],"c":3,"x":89,"d":17,"t":"33.6"},{"r":[1],"c":3,"x":266,"d":7,"t":"32.8"},{"r":[1],"c":3,"x":244,"d":24,"t":"33.2"},{"r":[1],"c":3,"x":44,"d":41,"t":"34"},{"r":[1],"c":3,"x":190,"d":36,"t":"34"},{"r":[1],"c":3,"x":40,"d":68,"t":"34.2"},{"r":[1],"c":3,"x":49,"d":134,"t":"34.4"},{"r":[1],"c":3,"x":193,"d":122,"t":"34.4"},{"r":[1],"c":3,"x":47,"d":238,"t":"34.6"},{"r":[1],"c":3,"x":207,"d":219,"t":"34.6"},
{"r":[1],"c":4,"x":141,"d":6,"t":"32.4"},{"r":[1],"c":4,"x":166,"d":17,"t":"32.8"},{"r":[1],"c":4,"x":134,"d":23,"t":"33.2"},{"r":[1],"c":4,"x":99,"d":29,"t":"33.6"},{"r":[1],"c":4,"x":46,"d":41,"t":"34"},{"r":[1],"c":4,"x":244,"d":37,"t":"34"},{"r":[1],"c":4,"x":155,"d":56,"t":"34.2"},{"r":[1],"c":4,"x":44,"d":145,"t":"34.4"},{"r":[1],"c":4,"x":238,"d":129,"t":"34.4"},{"r":[1],"c":4,"x":170,"d":225,"t":"34.4"},{"r":[1],"c":4,"x":39,"d":242,"t":"34.6"},
{"r":[1],"c":5,"x":93,"d":11,"t":"32.8"},{"r":[1],"c":5,"x":133,"d":11,"t":"32.4"},{"r":[1],"c":5,"x":62,"d":21,"t":"33.2"},{"r":[1],"c":5,"x":54,"d":35,"t":"33.6"},{"r":[1],"c":5,"x":48,"d":59,"t":"34"},{"r":[1],"c":5,"x":178,"d":31,"t":"34"},{"r":[1],"c":5,"x":236,"d":42,"t":"34.2"},{"r":[1],"c":5,"x":57,"d":82,"t":"34.2"},{"r":[1],"c":5,"x":68,"d":163,"t":"34.4"},{"r":[1],"c":5,"x":134,"d":252,"t":"34.4"},{"r":[1],"c":5,"x":223,"d":259,"t":"34.4"},{"r":[1],"c":5,"x":21,"d":241,"t":"34.6"},
{"r":[2],"c":2,"x":88,"d":19,"t":"0.5"},{"r":[2],"c":2,"x":68,"d":72,"t":"0.5"},{"r":[2],"c":2,"x":247,"d":26,"t":"5"},{"r":[2],"c":2,"x":284,"d":28,"t":"10"},{"r":[2],"c":2,"x":250,"d":48,"t":"1"},{"r":[2],"c":2,"x":275,"d":43,"t":"3"},{"r":[2],"c":2,"x":163,"d":236,"t":"0.05"},{"r":[2],"c":2,"x":37,"d":284,"t":"Chl a"},
{"r":[2],"c":3,"x":16,"d":10,"t":"0.5"},{"r":[2],"c":3,"x":72,"d":64,"t":"0.5"},{"r":[2],"c":3,"x":171,"d":12,"t":"1"},{"r":[2],"c":3,"x":158,"d":38,"t":"0.5"},{"r":[2],"c":3,"x":244,"d":32,"t":"3"},{"r":[2],"c":3,"x":281,"d":16,"t":"12"},{"r":[2],"c":3,"x":278,"d":31,"t":"10"},{"r":[2],"c":3,"x":278,"d":46,"t":"5"},{"r":[2],"c":3,"x":68,"d":174,"t":"0.05"},{"r":[2],"c":3,"x":184,"d":246,"t":"0.05"},
{"r":[2],"c":4,"x":11,"d":12,"t":"0.5"},{"r":[2],"c":4,"x":140,"d":19,"t":"1"},{"r":[2],"c":4,"x":261,"d":17,"t":"10"},{"r":[2],"c":4,"x":222,"d":39,"t":"3"},{"r":[2],"c":4,"x":257,"d":38,"t":"5"},{"r":[2],"c":4,"x":261,"d":52,"t":"1"},{"r":[2],"c":4,"x":134,"d":69,"t":"1"},{"r":[2],"c":4,"x":94,"d":85,"t":"0.5"},{"r":[2],"c":4,"x":59,"d":173,"t":"0.05"},{"r":[2],"c":4,"x":225,"d":236,"t":"0.05"},
{"r":[2],"c":5,"x":23,"d":27,"t":"0.5"},{"r":[2],"c":5,"x":258,"d":9,"t":"10"},{"r":[2],"c":5,"x":284,"d":9,"t":"16"},{"r":[2],"c":5,"x":253,"d":27,"t":"5"},{"r":[2],"c":5,"x":209,"d":41,"t":"3"},{"r":[2],"c":5,"x":260,"d":44,"t":"1"},{"r":[2],"c":5,"x":142,"d":63,"t":"1"},{"r":[2],"c":5,"x":74,"d":101,"t":"0.5"},{"r":[2],"c":5,"x":160,"d":146,"t":"0.05"},{"r":[2],"c":5,"x":251,"d":136,"t":"0.05"},{"r":[2],"c":5,"x":74,"d":179,"t":"0.05"},{"r":[2],"c":5,"x":214,"d":218,"t":"0.05"},
{"r":[0],"c":2,"x":0,"d":-11,"t":"2"},{"r":[0],"c":2,"x":35,"d":-11,"t":"3"},{"r":[0],"c":2,"x":106,"d":-11,"t":"4"},{"r":[0],"c":2,"x":177,"d":-11,"t":"5"},{"r":[0],"c":2,"x":205,"d":-11,"t":"6"},{"r":[0],"c":2,"x":233,"d":-11,"t":"7"},{"r":[0],"c":2,"x":262,"d":-11,"t":"8"},{"r":[0],"c":2,"x":297,"d":-11,"t":"9"},
{"r":[0],"c":3,"x":0,"d":-11,"t":"1"},{"r":[0],"c":3,"x":60,"d":-11,"t":"2"},{"r":[0],"c":3,"x":120,"d":-11,"t":"3"},{"r":[0],"c":3,"x":179,"d":-11,"t":"4"},{"r":[0],"c":3,"x":209,"d":-11,"t":"5"},{"r":[0],"c":3,"x":239,"d":-11,"t":"6"},{"r":[0],"c":3,"x":269,"d":-11,"t":"7"},{"r":[0],"c":3,"x":298,"d":-11,"t":"8"},
{"r":[0],"c":4,"x":0,"d":-11,"t":"1"},{"r":[0],"c":4,"x":59,"d":-11,"t":"2"},{"r":[0],"c":4,"x":120,"d":-11,"t":"3"},{"r":[0],"c":4,"x":180,"d":-11,"t":"4"},{"r":[0],"c":4,"x":205,"d":-11,"t":"5"},{"r":[0],"c":4,"x":221,"d":-11,"t":"6"},{"r":[0],"c":4,"x":243,"d":-11,"t":"7"},{"r":[0],"c":4,"x":272,"d":-11,"t":"8"},{"r":[0],"c":4,"x":300,"d":-11,"t":"9"},
{"r":[0],"c":5,"x":0,"d":-11,"t":"1"},{"r":[0],"c":5,"x":40,"d":-11,"t":"2"},{"r":[0],"c":5,"x":115,"d":-11,"t":"3"},{"r":[0],"c":5,"x":174,"d":-11,"t":"4"},{"r":[0],"c":5,"x":196,"d":-11,"t":"5"},{"r":[0],"c":5,"x":221,"d":-11,"t":"6"},{"r":[0],"c":5,"x":243,"d":-11,"t":"7"},{"r":[0],"c":5,"x":272,"d":-11,"t":"8"},{"r":[0],"c":5,"x":300,"d":-11,"t":"9"},
{"r":[0,1,2],"c":2,"x":0,"d":0,"s":"p"},{"r":[0,1,2],"c":2,"x":0,"d":25,"s":"p"},{"r":[0,1,2],"c":2,"x":0,"d":50,"s":"r"},{"r":[0,1,2],"c":2,"x":0,"d":75,"s":"r"},{"r":[0,1,2],"c":2,"x":0,"d":100,"s":"r"},{"r":[0,1,2],"c":2,"x":0,"d":150,"s":"g"},{"r":[0,1,2],"c":2,"x":0,"d":200,"s":"g"},{"r":[0,1,2],"c":2,"x":0,"d":300,"s":"g"},
{"r":[0,1,2],"c":2,"x":35,"d":0,"s":"p"},{"r":[0,1,2],"c":2,"x":35,"d":25,"s":"p"},{"r":[0,1,2],"c":2,"x":35,"d":50,"s":"r"},{"r":[0,1,2],"c":2,"x":35,"d":75,"s":"r"},{"r":[0,1,2],"c":2,"x":35,"d":100,"s":"g"},{"r":[0,1,2],"c":2,"x":35,"d":148,"s":"g"},{"r":[0,1,2],"c":2,"x":35,"d":199,"s":"g"},{"r":[0,1,2],"c":2,"x":35,"d":297,"s":"g"},
{"r":[0,1,2],"c":2,"x":106,"d":0,"s":"p"},{"r":[0,1,2],"c":2,"x":106,"d":25,"s":"p"},{"r":[0,1,2],"c":2,"x":106,"d":50,"s":"r"},{"r":[0,1,2],"c":2,"x":106,"d":75,"s":"r"},{"r":[0,1,2],"c":2,"x":106,"d":100,"s":"r"},{"r":[0,1,2],"c":2,"x":106,"d":150,"s":"g"},{"r":[0,1,2],"c":2,"x":106,"d":199,"s":"g"},{"r":[0,1,2],"c":2,"x":106,"d":299,"s":"g"},
{"r":[0,1,2],"c":2,"x":177,"d":2,"s":"p"},{"r":[0,1,2],"c":2,"x":177,"d":25,"s":"p"},{"r":[0,1,2],"c":2,"x":177,"d":50,"s":"r"},{"r":[0,1,2],"c":2,"x":177,"d":75,"s":"r"},{"r":[0,1,2],"c":2,"x":177,"d":100,"s":"r"},{"r":[0,1,2],"c":2,"x":177,"d":150,"s":"g"},{"r":[0,1,2],"c":2,"x":177,"d":199,"s":"g"},{"r":[0,1,2],"c":2,"x":177,"d":299,"s":"g"},
{"r":[0,1,2],"c":2,"x":205,"d":2,"s":"p"},{"r":[0,1,2],"c":2,"x":205,"d":25,"s":"p"},{"r":[0,1,2],"c":2,"x":205,"d":50,"s":"r"},{"r":[0,1,2],"c":2,"x":205,"d":73,"s":"r"},{"r":[0,1,2],"c":2,"x":205,"d":98,"s":"r"},{"r":[0,1,2],"c":2,"x":205,"d":149,"s":"g"},{"r":[0,1,2],"c":2,"x":205,"d":200,"s":"g"},{"r":[0,1,2],"c":2,"x":205,"d":299,"s":"g"},
{"r":[0,1,2],"c":2,"x":233,"d":1,"s":"p"},{"r":[0,1,2],"c":2,"x":233,"d":25,"s":"p"},{"r":[0,1,2],"c":2,"x":233,"d":50,"s":"r"},{"r":[0,1,2],"c":2,"x":233,"d":74,"s":"r"},{"r":[0,1,2],"c":2,"x":233,"d":99,"s":"r"},{"r":[0,1,2],"c":2,"x":233,"d":149,"s":"r"},{"r":[0,1,2],"c":2,"x":233,"d":200,"s":"g"},{"r":[0,1,2],"c":2,"x":233,"d":300,"s":"g"},
{"r":[0,1,2],"c":2,"x":262,"d":1,"s":"p"},{"r":[0,1,2],"c":2,"x":262,"d":24,"s":"p"},{"r":[0,1,2],"c":2,"x":262,"d":49,"s":"r"},{"r":[0,1,2],"c":2,"x":262,"d":74,"s":"r"},{"r":[0,1,2],"c":2,"x":262,"d":99,"s":"r"},{"r":[0,1,2],"c":2,"x":262,"d":149,"s":"r"},{"r":[0,1,2],"c":2,"x":262,"d":199,"s":"r"},{"r":[0,1,2],"c":2,"x":262,"d":300,"s":"r"},
{"r":[0,1,2],"c":2,"x":297,"d":1,"s":"p"},{"r":[0,1,2],"c":2,"x":297,"d":25,"s":"p"},{"r":[0,1,2],"c":2,"x":297,"d":49,"s":"p"},{"r":[0,1,2],"c":2,"x":297,"d":74,"s":"p"},{"r":[0,1,2],"c":2,"x":297,"d":90,"s":"p"},
{"r":[0,1,2],"c":3,"x":0,"d":2,"s":"p"},{"r":[0,1,2],"c":3,"x":0,"d":25,"s":"p"},{"r":[0,1,2],"c":3,"x":0,"d":50,"s":"r"},{"r":[0,1,2],"c":3,"x":0,"d":75,"s":"r"},{"r":[0,1,2],"c":3,"x":0,"d":100,"s":"g"},{"r":[0,1,2],"c":3,"x":0,"d":150,"s":"g"},{"r":[0,1,2],"c":3,"x":0,"d":200,"s":"g"},{"r":[0,1,2],"c":3,"x":0,"d":298,"s":"g"},
{"r":[0,1,2],"c":3,"x":60,"d":3,"s":"p"},{"r":[0,1,2],"c":3,"x":60,"d":25,"s":"p"},{"r":[0,1,2],"c":3,"x":60,"d":50,"s":"r"},{"r":[0,1,2],"c":3,"x":60,"d":75,"s":"r"},{"r":[0,1,2],"c":3,"x":60,"d":100,"s":"g"},{"r":[0,1,2],"c":3,"x":60,"d":149,"s":"g"},{"r":[0,1,2],"c":3,"x":60,"d":200,"s":"g"},{"r":[0,1,2],"c":3,"x":60,"d":296,"s":"g"},
{"r":[0,1,2],"c":3,"x":120,"d":3,"s":"p"},{"r":[0,1,2],"c":3,"x":120,"d":25,"s":"p"},{"r":[0,1,2],"c":3,"x":120,"d":50,"s":"r"},{"r":[0,1,2],"c":3,"x":120,"d":76,"s":"r"},{"r":[0,1,2],"c":3,"x":120,"d":99,"s":"r"},{"r":[0,1,2],"c":3,"x":120,"d":150,"s":"g"},{"r":[0,1,2],"c":3,"x":120,"d":200,"s":"g"},{"r":[0,1,2],"c":3,"x":120,"d":299,"s":"g"},
{"r":[0,1,2],"c":3,"x":179,"d":3,"s":"p"},{"r":[0,1,2],"c":3,"x":179,"d":25,"s":"p"},{"r":[0,1,2],"c":3,"x":179,"d":50,"s":"r"},{"r":[0,1,2],"c":3,"x":179,"d":75,"s":"r"},{"r":[0,1,2],"c":3,"x":179,"d":99,"s":"g"},{"r":[0,1,2],"c":3,"x":179,"d":150,"s":"g"},{"r":[0,1,2],"c":3,"x":179,"d":199,"s":"g"},{"r":[0,1,2],"c":3,"x":179,"d":299,"s":"g"},
{"r":[0,1,2],"c":3,"x":209,"d":25,"s":"p"},{"r":[0,1,2],"c":3,"x":209,"d":50,"s":"r"},{"r":[0,1,2],"c":3,"x":209,"d":75,"s":"r"},{"r":[0,1,2],"c":3,"x":209,"d":100,"s":"r"},{"r":[0,1,2],"c":3,"x":209,"d":150,"s":"g"},{"r":[0,1,2],"c":3,"x":209,"d":200,"s":"g"},{"r":[0,1,2],"c":3,"x":209,"d":299,"s":"g"},
{"r":[0,1,2],"c":3,"x":239,"d":0,"s":"p"},{"r":[0,1,2],"c":3,"x":239,"d":25,"s":"p"},{"r":[0,1,2],"c":3,"x":239,"d":50,"s":"r"},{"r":[0,1,2],"c":3,"x":239,"d":75,"s":"r"},{"r":[0,1,2],"c":3,"x":239,"d":100,"s":"r"},{"r":[0,1,2],"c":3,"x":239,"d":150,"s":"r"},{"r":[0,1,2],"c":3,"x":239,"d":200,"s":"g"},{"r":[0,1,2],"c":3,"x":239,"d":298,"s":"g"},
{"r":[0,1,2],"c":3,"x":269,"d":25,"s":"p"},{"r":[0,1,2],"c":3,"x":269,"d":50,"s":"p"},{"r":[0,1,2],"c":3,"x":269,"d":75,"s":"r"},{"r":[0,1,2],"c":3,"x":269,"d":100,"s":"p"},{"r":[0,1,2],"c":3,"x":269,"d":174,"s":"r"},
{"r":[0,1,2],"c":3,"x":298,"d":2,"s":"p"},{"r":[0,1,2],"c":3,"x":298,"d":25,"s":"p"},{"r":[0,1,2],"c":3,"x":298,"d":50,"s":"p"},{"r":[0,1,2],"c":3,"x":298,"d":75,"s":"p"},{"r":[0,1,2],"c":3,"x":298,"d":100,"s":"p"},{"r":[0,1,2],"c":3,"x":298,"d":150,"s":"r"},{"r":[0,1,2],"c":3,"x":298,"d":180,"s":"r"},
{"r":[0,1,2],"c":4,"x":0,"d":1,"s":"p"},{"r":[0,1,2],"c":4,"x":0,"d":25,"s":"p"},{"r":[0,1,2],"c":4,"x":0,"d":50,"s":"p"},{"r":[0,1,2],"c":4,"x":0,"d":75,"s":"r"},{"r":[0,1,2],"c":4,"x":0,"d":100,"s":"g"},{"r":[0,1,2],"c":4,"x":0,"d":149,"s":"g"},{"r":[0,1,2],"c":4,"x":0,"d":199,"s":"g"},{"r":[0,1,2],"c":4,"x":0,"d":298,"s":"g"},
{"r":[0,1,2],"c":4,"x":59,"d":1,"s":"p"},{"r":[0,1,2],"c":4,"x":59,"d":22,"s":"p"},{"r":[0,1,2],"c":4,"x":59,"d":49,"s":"r"},{"r":[0,1,2],"c":4,"x":59,"d":74,"s":"r"},{"r":[0,1,2],"c":4,"x":59,"d":98,"s":"g"},{"r":[0,1,2],"c":4,"x":59,"d":149,"s":"g"},{"r":[0,1,2],"c":4,"x":59,"d":198,"s":"g"},{"r":[0,1,2],"c":4,"x":59,"d":298,"s":"g"},
{"r":[0,1,2],"c":4,"x":120,"d":1,"s":"p"},{"r":[0,1,2],"c":4,"x":120,"d":24,"s":"p"},{"r":[0,1,2],"c":4,"x":120,"d":49,"s":"r"},{"r":[0,1,2],"c":4,"x":120,"d":74,"s":"r"},{"r":[0,1,2],"c":4,"x":120,"d":99,"s":"r"},{"r":[0,1,2],"c":4,"x":120,"d":149,"s":"r"},{"r":[0,1,2],"c":4,"x":120,"d":199,"s":"g"},{"r":[0,1,2],"c":4,"x":120,"d":299,"s":"g"},
{"r":[0,1,2],"c":4,"x":180,"d":15,"s":"p"},{"r":[0,1,2],"c":4,"x":180,"d":50,"s":"r"},{"r":[0,1,2],"c":4,"x":180,"d":74,"s":"r"},{"r":[0,1,2],"c":4,"x":180,"d":99,"s":"r"},{"r":[0,1,2],"c":4,"x":180,"d":149,"s":"g"},{"r":[0,1,2],"c":4,"x":180,"d":199,"s":"g"},{"r":[0,1,2],"c":4,"x":180,"d":299,"s":"g"},
{"r":[0,1,2],"c":4,"x":200,"d":0,"s":"p"},{"r":[0,1,2],"c":4,"x":200,"d":24,"s":"p"},{"r":[0,1,2],"c":4,"x":200,"d":49,"s":"r"},{"r":[0,1,2],"c":4,"x":200,"d":74,"s":"r"},{"r":[0,1,2],"c":4,"x":200,"d":98,"s":"r"},{"r":[0,1,2],"c":4,"x":200,"d":148,"s":"r"},{"r":[0,1,2],"c":4,"x":200,"d":200,"s":"r"},{"r":[0,1,2],"c":4,"x":200,"d":297,"s":"g"},
{"r":[0,1,2],"c":4,"x":219,"d":0,"s":"p"},{"r":[0,1,2],"c":4,"x":219,"d":24,"s":"p"},{"r":[0,1,2],"c":4,"x":219,"d":49,"s":"r"},{"r":[0,1,2],"c":4,"x":219,"d":74,"s":"r"},{"r":[0,1,2],"c":4,"x":219,"d":98,"s":"r"},{"r":[0,1,2],"c":4,"x":219,"d":149,"s":"r"},{"r":[0,1,2],"c":4,"x":219,"d":198,"s":"r"},{"r":[0,1,2],"c":4,"x":219,"d":300,"s":"g"},
{"r":[0,1,2],"c":4,"x":237,"d":1,"s":"p"},{"r":[0,1,2],"c":4,"x":237,"d":24,"s":"p"},{"r":[0,1,2],"c":4,"x":237,"d":49,"s":"p"},{"r":[0,1,2],"c":4,"x":237,"d":74,"s":"p"},{"r":[0,1,2],"c":4,"x":237,"d":100,"s":"r"},{"r":[0,1,2],"c":4,"x":237,"d":149,"s":"r"},{"r":[0,1,2],"c":4,"x":237,"d":198,"s":"r"},{"r":[0,1,2],"c":4,"x":237,"d":298,"s":"r"},
{"r":[0,1,2],"c":4,"x":267,"d":1,"s":"p"},{"r":[0,1,2],"c":4,"x":267,"d":24,"s":"p"},{"r":[0,1,2],"c":4,"x":267,"d":49,"s":"r"},{"r":[0,1,2],"c":4,"x":267,"d":74,"s":"r"},{"r":[0,1,2],"c":4,"x":267,"d":99,"s":"r"},{"r":[0,1,2],"c":4,"x":267,"d":149,"s":"r"},{"r":[0,1,2],"c":4,"x":267,"d":199,"s":"r"},{"r":[0,1,2],"c":4,"x":267,"d":298,"s":"r"},
{"r":[0,1,2],"c":4,"x":297,"d":1,"s":"p"},{"r":[0,1,2],"c":4,"x":297,"d":24,"s":"p"},{"r":[0,1,2],"c":4,"x":297,"d":49,"s":"p"},{"r":[0,1,2],"c":4,"x":297,"d":73,"s":"r"},{"r":[0,1,2],"c":4,"x":297,"d":98,"s":"r"},{"r":[0,1,2],"c":4,"x":297,"d":148,"s":"r"},{"r":[0,1,2],"c":4,"x":297,"d":198,"s":"r"},{"r":[0,1,2],"c":4,"x":297,"d":298,"s":"r"},
{"r":[0,1,2],"c":5,"x":0,"d":2,"s":"p"},{"r":[0,1,2],"c":5,"x":0,"d":24,"s":"p"},{"r":[0,1,2],"c":5,"x":0,"d":49,"s":"r"},{"r":[0,1,2],"c":5,"x":0,"d":75,"s":"g"},{"r":[0,1,2],"c":5,"x":0,"d":99,"s":"g"},{"r":[0,1,2],"c":5,"x":0,"d":149,"s":"g"},{"r":[0,1,2],"c":5,"x":0,"d":199,"s":"g"},{"r":[0,1,2],"c":5,"x":0,"d":297,"s":"g"},
{"r":[0,1,2],"c":5,"x":38,"d":0,"s":"p"},{"r":[0,1,2],"c":5,"x":38,"d":24,"s":"p"},{"r":[0,1,2],"c":5,"x":38,"d":49,"s":"p"},{"r":[0,1,2],"c":5,"x":38,"d":74,"s":"g"},{"r":[0,1,2],"c":5,"x":38,"d":98,"s":"g"},{"r":[0,1,2],"c":5,"x":38,"d":148,"s":"g"},{"r":[0,1,2],"c":5,"x":38,"d":199,"s":"g"},{"r":[0,1,2],"c":5,"x":38,"d":298,"s":"g"},
{"r":[0,1,2],"c":5,"x":115,"d":2,"s":"p"},{"r":[0,1,2],"c":5,"x":115,"d":24,"s":"p"},{"r":[0,1,2],"c":5,"x":115,"d":50,"s":"r"},{"r":[0,1,2],"c":5,"x":115,"d":75,"s":"r"},{"r":[0,1,2],"c":5,"x":115,"d":99,"s":"r"},{"r":[0,1,2],"c":5,"x":115,"d":151,"s":"g"},{"r":[0,1,2],"c":5,"x":115,"d":199,"s":"g"},{"r":[0,1,2],"c":5,"x":115,"d":299,"s":"g"},
{"r":[0,1,2],"c":5,"x":172,"d":1,"s":"p"},{"r":[0,1,2],"c":5,"x":172,"d":24,"s":"p"},{"r":[0,1,2],"c":5,"x":172,"d":49,"s":"r"},{"r":[0,1,2],"c":5,"x":172,"d":75,"s":"r"},{"r":[0,1,2],"c":5,"x":172,"d":99,"s":"r"},{"r":[0,1,2],"c":5,"x":172,"d":149,"s":"r"},{"r":[0,1,2],"c":5,"x":172,"d":199,"s":"r"},{"r":[0,1,2],"c":5,"x":172,"d":299,"s":"r"},
{"r":[0,1,2],"c":5,"x":196,"d":2,"s":"p"},{"r":[0,1,2],"c":5,"x":196,"d":24,"s":"r"},{"r":[0,1,2],"c":5,"x":196,"d":49,"s":"r"},{"r":[0,1,2],"c":5,"x":196,"d":75,"s":"r"},{"r":[0,1,2],"c":5,"x":196,"d":99,"s":"r"},{"r":[0,1,2],"c":5,"x":196,"d":149,"s":"r"},{"r":[0,1,2],"c":5,"x":196,"d":199,"s":"r"},{"r":[0,1,2],"c":5,"x":196,"d":299,"s":"r"},
{"r":[0,1,2],"c":5,"x":219,"d":2,"s":"p"},{"r":[0,1,2],"c":5,"x":219,"d":25,"s":"p"},{"r":[0,1,2],"c":5,"x":219,"d":49,"s":"r"},{"r":[0,1,2],"c":5,"x":219,"d":73,"s":"r"},{"r":[0,1,2],"c":5,"x":219,"d":98,"s":"r"},{"r":[0,1,2],"c":5,"x":219,"d":148,"s":"r"},{"r":[0,1,2],"c":5,"x":219,"d":198,"s":"r"},{"r":[0,1,2],"c":5,"x":219,"d":298,"s":"r"},
{"r":[0,1,2],"c":5,"x":242,"d":1,"s":"p"},{"r":[0,1,2],"c":5,"x":242,"d":24,"s":"p"},{"r":[0,1,2],"c":5,"x":242,"d":49,"s":"r"},{"r":[0,1,2],"c":5,"x":242,"d":75,"s":"r"},{"r":[0,1,2],"c":5,"x":242,"d":99,"s":"r"},{"r":[0,1,2],"c":5,"x":242,"d":149,"s":"r"},{"r":[0,1,2],"c":5,"x":242,"d":199,"s":"r"},{"r":[0,1,2],"c":5,"x":242,"d":299,"s":"r"},
{"r":[0,1,2],"c":5,"x":271,"d":2,"s":"p"},{"r":[0,1,2],"c":5,"x":271,"d":24,"s":"p"},{"r":[0,1,2],"c":5,"x":271,"d":49,"s":"p"},{"r":[0,1,2],"c":5,"x":271,"d":74,"s":"r"},{"r":[0,1,2],"c":5,"x":271,"d":99,"s":"r"},{"r":[0,1,2],"c":5,"x":271,"d":149,"s":"r"},{"r":[0,1,2],"c":5,"x":271,"d":199,"s":"r"},{"r":[0,1,2],"c":5,"x":271,"d":299,"s":"r"},
{"r":[0,1,2],"c":5,"x":299,"d":3,"s":"p"},{"r":[0,1,2],"c":5,"x":299,"d":24,"s":"r"},{"r":[0,1,2],"c":5,"x":299,"d":49,"s":"r"},{"r":[0,1,2],"c":5,"x":299,"d":75,"s":"r"},{"r":[0,1,2],"c":5,"x":299,"d":99,"s":"r"},{"r":[0,1,2],"c":5,"x":299,"d":150,"s":"r"},{"r":[0,1,2],"c":5,"x":299,"d":199,"s":"r"},{"r":[0,1,2],"c":5,"x":299,"d":299,"s":"r"}
]},
"transform":[{"flatten":["r"]}],
"facet":{"row":{"field":"r","type":"ordinal","header":{"title":null,"labels":false}},"column":{"field":"c","type":"ordinal","header":{"title":null,"labelExpr":"'Transect P'+datum.value+' stations'","labelFont":"Liberation Serif","labelFontSize":21.5,"labelColor":"#000","labelPadding":24}}},
"spacing":{"row":14,"column":13},"bounds":"flush",
"spec":{"width":298,"height":346,
"encoding":{"x":{"field":"x","type":"quantitative","scale":{"domain":[0,298],"nice":false,"zero":false},"axis":null},"y":{"field":"d","type":"quantitative","scale":{"domain":[0,300],"reverse":true,"nice":false},"axis":{"title":"Depth (m)","titleFont":"Liberation Serif","titleFontSize":21,"titleFontWeight":"normal","titleColor":"#000","titlePadding":16,"labelFont":"Liberation Serif","labelFontSize":14,"labelFontWeight":"bold","labelColor":"#000","values":[0,50,100,150,200,250,300],"grid":false,"domain":false,"tickSize":2,"tickColor":"#444","labelPadding":2}}},
"layer":[
{"transform":[{"filter":"datum.l&&test(/^(u|b)/,datum.l)"}],"mark":{"type":"area","interpolate":"monotone"},"encoding":{"y2":{"datum":0},"fill":{"field":"l","type":"nominal","legend":null,"sort":null,"scale":{"domain":["bT","b1","bS","u1","d1","u2","d2","u2b","d2b","u3","d3","u4","d4","u4b","d4b","u5","d5","u6","d6","u7","d7","u8","d8","u9","d9","u10","d10","u11","d11","m11","d12","d13","dq","dw","mw","mx","mp","mz","u0","u0w","u0x","m0","m5","m6","m1","t2","t3","t4","t5","t6","s24","s28","s32","s34","s36","s38","s39","s40","s42","s44","s46","g"],"range":["#fff1f1","#ffdcdc","#f2f2ff","#ffdcdc","#ffdcdc","#ffc8c8","#ffc8c8","#ffc8c8","#ffc8c8","#ffb6b6","#ffb6b6","#ffa6a6","#ffa6a6","#ffa6a6","#ffa6a6","#ff9696","#ff9696","#ff8787","#ff8787","#ff7878","#ff7878","#ff6a6a","#ff6a6a","#ff5c5c","#ff5c5c","#ff4d4d","#ff4d4d","#ff3e3e","#ff3e3e","#ff3e3e","#ff2e2e","#ff1e1e","#fff7f7","#ffffff","#ffffff","#ffffff","#fff1f1","#ffdcdc","#f3fff3","#ffffff","#ffffff","#f3fff3","#e2ffe2","#e2ffe2","#c9ffc9","#d0ffd0","#a8ffa8","#80ff80","#50ff50","#30f530","#fbfbff","#e2e2ff","#c0c0ff","#aaaaff","#9494ff","#7c7cff","#6c6cff","#5a5aff","#4444ff","#2a2aff","#0f0fff","#c8c8c8"]}}}},
{"transform":[{"filter":"datum.l&&test(/^(d|s)/,datum.l)"}],"mark":{"type":"area","interpolate":"monotone"},"encoding":{"y2":{"datum":300},"fill":{"field":"l","type":"nominal","legend":null,"sort":null}}},
{"transform":[{"filter":"datum.l&&test(/^m/,datum.l)"}],"mark":{"type":"area","interpolate":"monotone","strokeWidth":1},"encoding":{"y2":{"field":"e"},"fill":{"field":"l","type":"nominal","legend":null,"sort":null},"stroke":{"condition":[{"test":"datum.l=='mp'","value":"#ff3a3a"},{"test":"datum.l=='mz'","value":"#2a3ae0"}],"value":"#b0b0b0"}}},
{"transform":[{"filter":"datum.l&&test(/^t/,datum.l)"}],"mark":{"type":"area","interpolate":"monotone"},"encoding":{"y2":{"datum":0},"fill":{"field":"l","type":"nominal","legend":null,"sort":null}}},
{"transform":[{"filter":"datum.l&&test(/^(u|d|s|t)/,datum.l)"}],"mark":{"type":"line","interpolate":"monotone","strokeWidth":1,"clip":true},"encoding":{"detail":{"field":"l"},"stroke":{"condition":[{"test":"indexof(['u1','d1','s40','t3'],datum.l)>=0","value":"#ff3030"},{"test":"test(/[0-9]b$/,datum.l)","value":"#2a3ae0"},{"test":"test(/^s/,datum.l)","value":"#6464b4"},{"test":"test(/^(u0|dq|dw)/,datum.l)","value":"#b4b4b4"}],"value":"#8e8080"}}},
{"transform":[{"filter":"datum.l=='g'"}],"mark":{"type":"area","interpolate":"step-before","color":"#c8c8c8"},"encoding":{"y2":{"datum":300}}},
{"transform":[{"filter":"datum.l=='fr'"}],"mark":{"type":"area","fill":"transparent","stroke":"#333","strokeWidth":1.5},"encoding":{"y2":{"field":"e"}}},
{"transform":[{"filter":"isValid(datum.i)"}],"mark":{"type":"rule","color":"#0a1ee6","strokeWidth":4},"encoding":{"x":{"field":"i","type":"quantitative"},"x2":{"field":"j"},"y":{"datum":0}}},
{"transform":[{"filter":"isValid(datum.t)&&datum.d>=0"}],"mark":{"type":"text","font":"Liberation Serif","fontSize":16,"color":"#000"},"encoding":{"text":{"field":"t"}}},
{"transform":[{"filter":"datum.s=='p'"}],"mark":{"type":"point","filled":true,"opacity":1,"shape":"circle","size":105,"color":"#9a05cc"}},
{"transform":[{"filter":"datum.s=='r'"}],"mark":{"type":"point","filled":true,"opacity":1,"shape":"diamond","size":190,"color":"#ff0000"}},
{"transform":[{"filter":"datum.s=='g'"}],"mark":{"type":"point","filled":true,"opacity":1,"shape":"square","size":85,"color":"#14f014"}},
{"transform":[{"filter":"isValid(datum.t)&&datum.d<0"}],"mark":{"type":"text","font":"Liberation Serif","fontSize":14,"fontWeight":"bold","color":"#000"},"encoding":{"text":{"field":"t"}}}
]},
"config":{"view":{"stroke":null}}}
